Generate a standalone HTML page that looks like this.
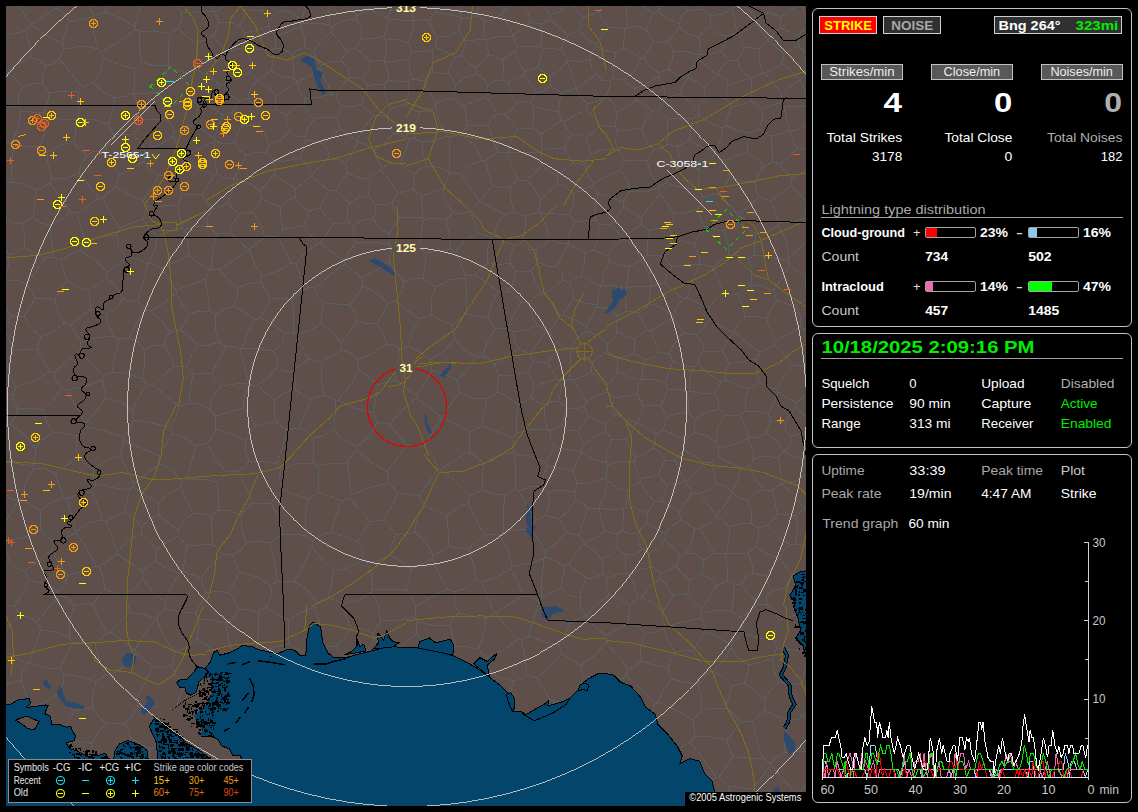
<!DOCTYPE html>
<html><head><meta charset="utf-8"><title>Lightning</title>
<style>
html,body{margin:0;padding:0;background:#000;width:1138px;height:812px;overflow:hidden}
svg{position:absolute;left:0;top:0;font-family:"Liberation Sans",sans-serif}
</style></head><body>
<svg width="1138" height="812" viewBox="0 0 1138 812">

<defs><clipPath id="mc"><rect x="6" y="6" width="800" height="800"/></clipPath></defs>
<g clip-path="url(#mc)" shape-rendering="crispEdges">
<rect x="6" y="6" width="800" height="800" fill="#5e4f4b"/>
<path d="M831 799L821 799L811 803M811 803L810 816L811 826M18 501L8 497L-4 489M18 501L11 513L3 526M3 526L-9 522L-19 515M7 825L0 818L-11 810M8 -3L-3 12L-16 23M40 511L52 502L64 498M40 511L31 505L22 499M22 499L26 482L34 468M64 498L59 484L55 474M55 474L46 469L34 468M-6 461L14 463L33 466M18 501L22 499M33 466L34 468M745 820L751 816L759 809M759 809L769 813L775 813M507 818L511 806L514 798M550 818L535 808L524 794M514 798L524 794M490 825L483 816L472 811M455 814L462 811L472 811M419 813L431 810L444 805M444 805L450 810L455 814M598 836L598 825L600 810M562 817L568 807L577 793M577 793L587 801L600 810M631 815L623 809L617 803M617 803L609 805L600 810M508 291L498 292M508 291L513 284L516 272M516 272L510 263M510 263L498 265L488 263M488 263L482 268L475 275M498 292L488 283L475 275M79 -12L88 4L94 16M117 -14L110 -1L105 12M105 12L94 16M17 -1L22 11L31 24M58 -4L57 8M57 8L42 17L31 24M357 141L351 137L340 129M357 141L357 142M357 142L353 153L345 163M340 129L333 135L323 144M323 144L328 150L328 159M328 159L338 159L345 163M43 410L30 408L18 409M43 410L47 423L54 432M35 448L42 440L54 432M35 448L25 435L10 424M10 424L15 418L18 409M-1 430L10 424M33 466L35 456L35 448M13 395L-1 392L-18 390M13 395L14 402L18 409M80 350L92 364L103 376M80 350L67 361L54 373M54 373L56 380L62 388M103 376L102 380M102 380L83 387L66 390M62 388L66 390M85 424L78 409L66 390M85 424L96 411L106 398M106 398L105 390L102 380M-5 193L-1 204L7 219M7 219L-2 230L-12 239M-15 117L-4 128L9 143M-20 154L-3 148L9 143M442 418L433 431L424 447M442 418L428 406L416 398M416 398L400 412L389 424M424 447L418 445L407 445M407 445L398 435L389 424M538 601L532 597L523 596M538 601L541 598M523 596L518 582L511 569M512 567L511 569M512 567L526 564L544 559M541 598L542 577L544 559M419 496L424 506M419 496L407 494L398 493M424 506L417 517L415 532M383 520L392 506L398 493M383 520L388 525L396 534M396 534L405 534L415 532M482 490L494 494L505 495M482 490L482 476L484 463M484 463L497 456L513 452M515 489L505 495M515 489L516 470L514 454M514 454L513 452M441 470L455 481L470 496M441 470L454 460L469 452M469 452L478 458L484 463M470 496L482 490M485 536L477 521L468 503M485 536L475 542L469 549M449 546L458 548L469 549M449 546L448 529L447 516M447 516L459 507L468 503M500 536L492 534L485 536M500 536L504 532M470 496L468 503M504 532L503 514L505 495M424 506L434 510L447 516M415 532L425 541L433 555M433 555L444 550L449 546M438 469L441 470M438 469L429 482L419 496M627 573L619 574L608 578M627 573L625 564L626 555M608 578L602 574M602 574L604 566L601 559M626 555L617 548M601 559L610 555L617 548M622 530L623 521L624 508M622 530L616 534M624 508L613 510L599 508M616 534L605 531M599 508L601 519L605 531M724 -9L727 1L733 8M733 8L743 5M743 5L750 -4L755 -12M823 -3L812 3L802 6M828 30L816 27L807 26M802 6L805 15L807 26M802 6L797 4M797 4L792 -4L790 -10M690 794L703 788L716 777M690 794L702 807L710 822M727 812L718 818L710 822M727 812L730 797L728 786M728 786L719 777M716 777L719 777M669 827L674 812L680 793M680 793L690 794M745 820L736 815L727 812M759 809L756 797L753 788M753 788L743 788L728 786M640 813L646 805L649 794M680 793L680 793M649 794L663 796L680 793M824 758L814 774L800 793M822 753L804 751L784 753M800 793L795 792M795 792L780 776L771 765M784 753L775 758L771 764M771 764L771 765M811 803L806 799L800 793M775 813L784 804L795 792M753 788L763 775L771 765M55 474L65 467L78 456M54 432L67 434L77 436M78 456L76 448L77 436M85 424L85 427M43 410L54 399L62 388M85 427L77 436M106 398L121 402L132 411M132 411L133 420M85 427L105 431L123 437M133 420L130 430L123 437M617 803L620 793L619 782M649 794L645 788L637 779M619 782L630 781L637 779M558 775L568 780L577 791M558 775L555 764L555 750M577 791L590 778L602 769M555 750L564 745L573 740M573 740L586 742L600 744M602 769L600 756L602 747M600 744L602 747M524 794L526 791M526 791L540 781L558 775M577 793L577 791M619 782L613 775L602 769M7 541L5 549M7 541L25 537L41 531M5 549L10 561M10 561L17 568L25 571M25 571L40 560L52 550M41 531L47 537L54 542M54 542L52 550M3 526L5 536L7 541M-21 550L-6 550L5 549M40 511L40 522L41 531M-13 589L-2 573L10 561M499 376L494 365M499 376L513 375L528 372M530 354L519 349M530 354L533 361M533 361L528 372M494 365L507 356L519 349M452 325L455 339M452 325L460 319L466 314M466 314L475 316L488 318M488 318L495 328M482 356L487 343L495 328M482 356L476 356M455 339L464 350L476 356M443 417L457 425L470 432M443 417L452 403L460 392M460 392L471 398L487 399M487 399L484 414L482 426M482 426L470 432M438 469L433 456L424 447M469 452L469 444L470 432M442 418L443 417M499 376L497 384L498 392M498 392L487 399M482 356L489 358L494 365M476 356L467 371L457 380M457 380L460 392M518 405L507 396L498 392M518 405L516 418L517 433M513 438L517 433M513 438L496 431L482 426M513 438L513 452M455 339L444 351L430 360M457 380L447 375L432 370M432 370L430 360M416 398L416 395M432 370L425 383L416 395M807 365L813 371L824 381M807 365L810 348L817 335M598 194L608 196L623 202M598 194L593 186M593 186L594 183M623 202L630 191M630 191L627 179L620 170M594 183L607 176L620 170M647 160L637 160L625 160M647 160L651 175L660 186M630 191L645 192L659 188M660 186L659 188M620 170L625 160M452 325L440 320L431 315M431 315L419 319M430 360L418 351L408 346M419 319L412 333L408 346M416 395L406 388L395 380M395 380L397 365L400 349M408 346L400 349M538 262L531 271M538 262L547 266L556 267M531 271L535 281L542 294M556 267L562 273L563 280M563 280L555 287L545 294M542 294L545 294M498 292L492 303L488 318M466 314L467 294L465 278M475 275L466 276M465 278L466 276M431 315L431 300L436 287M465 278L450 280L436 287M404 282L413 279L423 278M404 282L402 291L396 301M419 319L406 309L396 301M436 287L429 283L423 278M515 246L510 257L510 263M515 246L505 242L494 236M488 263L487 252L491 237M494 236L491 237M516 272L524 271L531 271M515 246L522 243M538 262L536 250M536 250L528 249L522 243M666 183L675 171L682 163M666 183L660 186M647 160L654 150M668 144L662 148L654 150M668 144L677 147M677 147L679 156L682 163M542 165L550 172L557 176M542 165L541 153M541 153L542 150M542 150L552 148L565 148M557 176L567 167L574 163M574 163L569 156L565 148M593 186L584 189L573 194M573 194L566 187L558 184M558 184L557 176M585 165L588 176L594 183M585 165L574 163M117 -14L129 -9L144 1M105 12L122 19L135 27M144 1L138 13L135 27M-4 191L1 185L11 182M9 143L12 144M12 144L14 146M11 182L11 164L14 146M94 16L93 17M57 8L63 13L70 22M93 17L82 19L70 22M103 58L118 64L134 69M103 58L101 52M101 52L120 41L136 29M141 62L139 47L140 32M141 62L134 69M140 32L136 29M93 83L100 72L103 58M93 83L103 92L115 98M133 93L126 96L115 98M133 93L135 83L134 69M135 27L136 29M93 17L94 34L98 49M98 49L101 52M337 118L340 129M337 118L324 117L314 119M323 144L313 141L306 140M306 140L305 137M314 119L308 128L305 137M302 226L307 220L308 211M302 226L308 232L318 243M333 223L327 234L320 243M333 223L327 217L320 208M318 243L320 243M320 208L308 211M141 62L152 65L168 66M140 32L157 31L170 34M170 34L168 48L168 66M249 250L255 265L262 276M249 250L249 250M277 236L265 237M277 236L284 249L291 263M249 250L257 243L265 237M262 276L278 271L291 263M283 230L290 228L302 226M283 230L277 236M318 243L305 253L296 264M296 264L291 263M66 499L73 517L76 532M66 499L64 498M54 542L66 537L76 533M76 533L76 532M68 575L84 571L96 566M68 575L59 564L52 550M76 533L86 547L96 566M66 499L81 493L92 492M92 492L98 506L102 520M76 532L88 523L102 520M16 387L9 373L7 360M16 387L35 381L50 371M50 371L43 361L37 349M37 349L25 349L14 351M14 351L7 360M13 395L16 387M-17 362L-4 359L7 360M54 373L50 371M65 323L70 325M65 323L53 332L41 337M70 325L75 332L81 343M81 343L80 350M41 337L37 349M-17 331L-6 329L4 329M4 329L9 339L14 351M226 347L219 342M226 347L219 360L212 373M212 373L202 374L193 373M197 345L209 345L219 342M197 345L192 354L187 367M187 367L193 373M164 345L154 345L144 350M164 345L171 357L174 366M144 350L145 363L142 379M174 366L162 377L154 385M142 379L147 385M147 385L154 385M170 332L165 339L164 345M170 332L180 330M180 330L188 335L197 345M187 367L174 366M132 411L138 398L147 385M103 376L112 372M112 372L125 373L142 379M398 493L389 483M407 445L397 459L387 471M389 483L387 471M378 385L376 398L373 413M378 385L388 382L395 380M389 424L377 422M373 413L377 422M567 701L572 719L573 740M567 701L574 697M600 744L607 730L609 716M574 697L592 707L609 716M586 616L596 605L609 595M586 616L581 609L580 598M609 595L606 586L608 578M602 574L593 578L587 578M580 598L581 589L587 578M586 616L577 619L570 624M586 616L586 616M538 601L539 602M541 598L553 592L561 588M570 624L552 615L539 602M580 598L568 595L561 588M588 508L583 522L579 536M588 508L599 508M599 508L599 508M605 531L596 538L584 542M579 536L584 542M561 588L563 576L565 566M587 578L580 573L569 565M569 565L565 566M601 559L594 550L584 544M569 565L575 554L584 544M544 559L545 557M565 566L554 560L545 557M616 534L617 539L617 548M584 544L584 542M450 625L454 617L459 613M450 625L432 625L417 622M417 622L415 617M447 589L454 592M447 589L432 597L416 606M416 606L415 617M459 613L454 602L454 592M433 555L432 558M432 558L438 571L447 589M469 549L474 567L476 579M454 592L467 588L476 579M512 567L508 550L500 536M511 569L497 577L482 582M482 582L476 579M809 465L820 466L835 464M809 465L806 459M806 459L811 448L817 437M759 604L748 594L741 584M759 604L750 610L741 618M731 611L741 618M731 611L734 598L733 584M733 584L741 584M626 555L636 554L642 549M622 530L629 534L638 533M638 533L638 540L642 549M550 431L551 440L554 446M550 431L547 429M547 429L532 429L517 433M514 454L529 456L545 462M554 446L551 455L545 462M515 489L519 491M542 486L529 487L519 491M542 486L543 477L547 466M547 466L545 462M577 483L573 471M577 483L574 492M542 486L548 492M573 471L561 468L547 466M548 492L559 490L574 492M606 478L589 483L577 483M606 478L607 480M607 480L605 495L599 508M588 508L582 503L576 500M574 492L576 500M625 507L628 497L627 491M625 507L634 508L647 513M655 502L647 513M655 502L647 493L639 482M639 482L632 486L627 491M607 480L617 488L627 491M624 508L625 507M648 523L643 527L638 533M648 523L647 513M661 501L673 508L679 512M661 501L655 502M648 523L658 530L666 533M666 533L672 526L681 520M681 520L679 512M667 485L664 494L661 501M667 485L658 475M641 479L650 477L658 475M641 479L639 482M608 465L606 478M608 465L620 461L634 461M634 461L636 469L641 479M807 54L816 54L822 52M807 54L798 46M807 26L798 36M798 46L798 36M37 622L30 618L20 615M37 622L46 611L60 595M29 580L46 584L59 592M29 580L22 594L15 606M15 606L20 615M60 595L59 592M41 630L37 622M41 630L55 632L69 637M69 637L70 620L74 606M74 606L69 599L60 595M68 575L64 586L59 592M25 571L29 580M-9 599L1 605L15 606M-2 644L8 627L20 615M678 749L662 741L648 730M678 749L676 757L672 763M672 763L658 764L644 766M644 766L642 757L635 749M648 730L643 740L635 749M690 742L684 746L678 749M690 742L704 760L716 777M680 793L677 778L672 763M637 779L642 772L644 766M602 747L619 746L635 749M733 757L749 758L763 758M733 757L729 748L727 740M727 740L733 732L740 722M763 758L757 742L753 721M753 721L740 722M719 777L727 765L733 757M771 764L763 758M690 742L694 736M694 736L711 737L727 740M784 753L786 736L788 720M753 721L757 717L765 711M765 711L776 716L788 720M766 604L774 610L779 620M766 604L759 604M741 618L743 623L742 632M742 632L757 638L774 639M779 620L774 630L774 639M820 641L811 629L803 616M803 616L813 607L826 598M129 490L115 488L96 484M129 490L133 487M133 487L134 484M134 484L126 468L120 455M120 455L106 461L93 469M93 469L93 479L96 484M124 512L113 517L106 521M124 512L127 502L129 490M92 492L96 484M102 520L106 521M159 503L167 494L181 487M159 503L148 497L133 487M160 464L148 473L134 484M160 464L173 471L182 482M182 482L181 487M159 456L141 448L124 441M159 456L160 464M124 441L122 448L120 455M78 456L84 463L93 469M123 437L124 441M283 490L279 479L281 470M283 490L277 496L271 503M238 471L245 467L249 461M238 471L246 487L253 503M249 461L261 461L276 464M253 503L259 503L271 503M281 470L276 464M256 426L250 433L246 441M256 426L267 423L276 422M276 422L287 430M249 461L245 450L246 441M276 464L282 449L287 430M243 408L230 412L215 416M243 408L251 416L256 426M246 441L233 434L216 429M216 429L215 416M221 386L213 396L210 409M221 386L216 381L212 373M193 373L190 391L189 403M210 409L199 404L189 403M159 456L166 444L173 434M133 420L151 423L171 427M171 427L173 434M154 385L165 395L179 407M171 427L176 417L179 407M179 407L189 403M74 606L86 603L93 605M96 566L99 566M99 566L103 576L105 589M105 589L99 595L93 605M201 578L210 566L223 554M201 578L193 575L183 571M223 554L216 547L212 544M212 544L201 545L187 546M183 571L185 557L187 546M419 813L411 807M445 778L444 791L444 805M445 778L433 774L421 767M421 767L414 771L410 779M411 807L411 793L410 779M567 701L557 702L550 700M550 700L540 709L535 718M555 750L544 748L538 742M538 742L538 732L535 718M526 791L523 771L520 752M538 742L529 749L520 752M459 613L473 616L486 619M482 582L488 598L495 613M486 619L495 613M523 596L509 604L496 613M496 613L495 613M528 636L545 642L559 645M528 636L521 640M521 640L525 656L527 675M562 654L559 645M562 654L551 665L537 678M537 678L527 675M570 624L565 634L559 645M539 602L534 618L528 636M518 639L507 628L496 613M518 639L521 640M550 700L545 691L537 678M514 681L522 678L527 675M514 681L510 694L508 709M535 718L523 715L508 709M399 672L397 663L397 652M399 672L410 674L419 673M397 652L406 642L416 634M419 673L427 667L434 657M434 657L425 644L416 634M317 602L328 598M317 602L306 589L294 581M328 598L331 586L334 571M294 581L303 566L312 547M312 547L324 561L334 571M283 490L296 495L308 499M271 503L279 518L283 534M283 534L296 534L305 536M305 536L305 516L308 499M411 569L401 561L390 555M411 569L409 581L405 589M405 589L388 589L373 589M390 555L380 560L367 563M367 563L372 577L373 589M396 534L391 546L390 555M432 558L421 565L411 569M416 606L413 600L405 589M-18 727L-7 740L5 751M-4 711L11 718L27 720M27 720L14 736L5 751M-11 768L-1 761L5 753M5 751L5 753M550 431L562 425M547 429L545 419L544 405M562 425L565 415L567 408M567 408L559 401M559 401L554 401L544 405M518 405L523 402L531 398M544 405L539 403L531 398M528 372L533 381L534 387M531 398L534 387M569 282L563 280M569 282L572 289L574 299M545 294L552 304L560 315M560 315L563 315M574 299L567 308L563 315M826 302L815 299L808 297M808 297L805 286L806 276M806 276L819 273L830 268M817 335L810 331L801 327M801 327L800 316L796 306M796 306L803 300L808 297M668 144L667 133L667 118M654 150L645 139L642 128M667 118L659 110M659 110L653 111M653 111L646 118L642 128M585 165L591 154M625 160L618 149M591 154L602 150L618 149M642 128L629 130L618 130M618 149L615 141L618 130M637 100L647 107L653 111M637 100L625 108L617 114M617 114L615 126M618 130L615 126M585 253L577 248L568 244M585 253L594 250M594 250L598 238L599 224M568 244L570 231L575 221M568 244L568 244M575 221L584 221L595 220M595 220L599 224M581 276L584 264L585 253M581 276L569 282M556 267L563 254L568 244M569 214L557 214L540 213M569 214L575 221M540 213L546 226L549 239M549 239L559 243L568 244M549 239L545 245L536 250M598 194L595 206L595 220M569 214L573 205L573 194M521 302L513 316L508 328M521 302L529 302M529 302L532 316L537 325M537 325L527 330L513 332M508 328L513 332M508 291L514 294L521 302M495 328L508 328M542 294L533 298L529 302M560 315L557 321L549 331M547 331L537 325M547 331L549 331M530 354L538 343L547 331M519 349L515 341L513 332M558 184L548 192L541 200M542 165L533 175L527 180M527 180L536 191L541 200M540 213L539 212M522 243L525 227L526 216M526 216L539 212M541 200L539 212M508 152L511 140L517 130M508 152L525 152L541 153M517 130L523 128L532 128M542 150L541 143L541 134M532 128L541 134M571 134L566 127L564 122M571 134L580 135L586 138M564 122L573 116L586 110M586 138L595 131L599 125M586 110L592 115L599 125M565 148L566 143L571 134M562 120L549 129L541 134M562 120L564 122M591 154L589 148L586 138M615 126L608 127L599 125M606 95L598 101L587 104M606 95L614 104L617 114M587 104L586 110M400 163L406 149L409 139M400 163L391 163L382 168M382 168L378 160L374 150M374 150L386 142L394 133M394 133L401 134L409 139M415 174L407 170L400 163M415 174L413 181L413 189M413 189L407 191L398 193M381 170L389 180L398 193M381 170L382 168M422 142L423 154L427 166M422 142L432 141L447 136M447 136L449 137M449 137L450 153L449 172M427 166L440 168L449 172M415 174L419 169L427 166M414 138L409 139M414 138L422 142M420 112L415 125L414 138M420 112L429 111L435 106M435 106L438 119L447 136M502 80L508 82M502 80L497 80L488 85M508 82L511 93L516 103M486 97L488 85M486 97L491 103L497 114M516 103L512 110L504 114M497 114L504 114M524 75L514 80L508 82M524 75L525 72M502 60L509 55L515 51M502 60L504 68L502 80M525 72L519 63L515 51M476 74L483 78L488 85M476 74L476 68M476 68L484 61L488 55M502 60L494 56L488 55M488 125L491 119L497 114M488 125L476 125L467 126M464 106L466 115L467 126M464 106L475 101L486 97M405 104L413 110L420 112M405 104L408 95L409 81M435 106L437 103M409 81L413 79M413 79L424 81M424 81L428 90L437 103M464 106L453 98M467 126L461 134M461 134L449 137M437 103L447 99L453 98M476 74L464 78L456 85M456 85L453 98M384 85L386 99L391 109M384 85L377 84L368 86M368 86L364 97L362 104M362 104L367 111L374 115M374 115L387 115M387 115L391 109M405 104L396 107L391 109M409 81L400 82L388 80M388 80L384 85M357 141L364 127L374 115M337 118L341 106M341 106L352 107L362 104M357 142L365 144L374 150M394 133L390 126L387 115M341 106L336 97M336 97L341 87L350 77M368 86L363 79M363 79L350 77M36 190L42 188L50 183M36 190L35 204L33 217M50 183L61 199L71 212M33 217L40 223L50 225M71 212L60 220L50 225M11 182L23 184L36 190M40 146L29 146L14 146M40 146L47 152M47 152L48 163L52 179M52 179L50 183M7 219L14 223L22 223M22 223L33 217M53 257L52 242L50 225M53 257L61 260M85 240L81 228L77 213M85 240L80 250M77 213L71 212M61 260L73 253L80 250M47 117L60 119L75 120M47 117L45 133L40 146M47 152L62 145L73 142M73 142L76 133L75 120M93 83L82 87M115 98L112 113L108 124M82 87L79 91M79 91L78 106L78 118M78 118L94 120L108 124M98 49L82 46L64 49M82 87L71 73L59 59M59 59L64 49M70 22L65 33L62 43M64 49L62 43M31 24L31 25M62 43L48 36L31 25M336 97L332 94M332 94L319 97L305 99M314 119L308 113L304 104M305 99L304 104M146 207L162 206L178 205M146 207L143 219M143 219L149 229L158 236M158 236L171 231L182 228M178 205L180 217L182 228M283 230L281 217L280 207M265 237L260 223L252 212M252 212L258 206L261 198M261 198L270 203L280 207M308 211L299 204L295 197M280 207L286 202L295 197M196 42L197 52L198 64M196 42L189 38L178 28M178 28L170 34M168 66L169 68M198 64L195 69M195 69L190 72M169 68L182 72L190 72M388 303L383 314L377 323M388 303L396 301M400 349L392 344L387 344M377 323L384 336L387 344M324 303L336 304L350 305M324 303L322 311L321 324M321 324L332 332L341 343M341 343L349 333L357 321M350 305L354 311L357 321M388 303L378 294L363 286M363 286L358 294L350 305M377 323L368 324L357 321M275 400L283 393L295 390M275 400L274 411L276 422M299 428L287 430M299 428L305 415L311 399M311 399L303 395L295 390M275 400L265 393L258 385M243 408L245 395L251 385M258 385L251 385M221 386L235 384L249 383M226 347L235 346L240 349M240 349L244 365L249 383M215 416L210 409M249 383L251 385M228 203L218 208L212 208M228 203L234 210L240 214M240 214L233 223L230 233M212 208L207 219L208 226M230 233L217 234M217 234L208 226M234 178L232 191L228 203M234 178L225 178L217 174M202 195L206 201L212 208M202 195L207 187L214 175M217 174L214 175M234 178L234 178M234 178L249 183L260 191M252 212L240 214M261 198L260 191M249 250L239 241L230 233M202 195L190 194L182 195M182 195L178 205M182 228L185 230M185 230L194 226L208 226M249 250L232 261L219 270M219 270L211 269M211 269L213 249L217 234M188 255L199 263L210 270M188 255L188 241L185 230M211 269L210 270M262 276L261 282M219 270L229 281L238 288M261 282L247 284L238 288M219 342L215 327L216 315M216 315L224 309L234 306M240 349L242 348M242 348L248 332L255 320M234 306L246 313L255 320M413 189L421 196M398 193L392 202M392 202L395 212L400 218M421 196L422 206L422 218M400 218L410 217L422 218M356 243L370 242L389 244M356 243L349 251L344 261M344 261L344 264M344 264L353 271L362 278M362 278L375 271L389 261M389 261L392 248M392 248L389 244M320 243L331 251L344 261M315 288L330 275L344 264M315 288L309 287M309 287L301 278L296 264M315 288L318 297L324 303M363 286L362 278M404 282L395 270L389 261M426 253L425 267L423 278M426 253L419 247M419 247L404 247L392 248M400 218L393 227L389 234M419 247L421 233L424 220M424 220L422 218M389 234L389 244M345 163L348 173M381 170L373 174L369 179M369 179L360 178L348 173M65 323L57 310L55 300M55 300L47 298L35 298M41 337L31 328L24 316M35 298L29 309L24 316M4 329L8 324L11 317M-6 293L5 306L11 317M24 316L11 317M45 258L33 252L24 248M45 258L35 273L26 284M24 248L15 253L9 254M9 254L8 268L4 280M26 284L17 280L4 280M22 223L25 238L24 248M53 257L45 258M55 300L61 289L67 281M61 260L63 269L67 281M35 298L32 291L26 284M-12 239L-3 245L9 254M-1 283L4 280M216 315L210 311M210 270L205 279M238 288L237 298L234 306M205 279L208 297L210 311M180 330L186 321L189 315M189 315L198 311L210 311M85 240L102 237L117 235M117 235L119 248L126 258M80 250L95 260L108 272M126 258L115 267L108 272M756 359L757 370L759 382M756 359L741 362L729 364M729 364L726 370L725 380M725 380L737 385L749 389M749 389L759 382M270 543L258 541L246 543M270 543L275 563L277 581M277 581L271 586M271 586L257 577L239 572M246 543L241 550L233 555M239 572L235 561L233 555M241 515L241 527L246 543M241 515L247 508L253 503M283 534L275 539L270 543M294 581L285 581L277 581M312 547L312 541M305 536L312 541M288 620L300 613L315 607M288 620L275 613L266 607M266 607L271 597L271 586M315 607L317 602M223 554L233 555M212 544L212 530L211 516M241 515L228 510L218 510M218 510L211 516M206 593L219 591L229 593M206 593L203 585L201 578M229 593L235 581L239 572M357 450L352 455L347 463M357 450L357 446M357 446L343 440L334 430M347 463L333 463L318 466M334 430L322 436L313 438M313 438L313 450L314 463M318 466L314 463M351 495L368 488L389 483M351 495L349 477L347 463M387 471L372 463L357 450M377 422L369 437L357 446M281 470L295 464L314 463M299 428L306 431L313 438M308 499L318 493M318 493L318 480L318 466M586 616L595 627L606 635M609 595L618 598L630 605M606 635L618 629L628 624M628 624L629 613L630 605M673 596L667 585L660 579M673 596L667 606L662 612M660 579L649 587L641 598M662 612L654 603L641 598M627 573L630 574M630 574L635 588L638 598M630 605L638 598M606 635L606 643M562 654L573 660L580 666M606 643L594 656L580 666M574 697L580 686L583 676M580 666L583 676M807 365L794 365M794 365L784 375L777 389M777 389L778 392M778 392L789 399L796 403M796 403L809 393L824 385M807 475L814 487M807 475L796 481L782 484M782 484L794 495L804 508M814 487L808 498L804 508M809 465L807 475M701 609L693 601L687 595M701 609L708 599L717 585M687 595L688 590L690 580M690 580L702 574M717 585L711 579L702 574M702 613L718 610L731 611M702 613L701 609M733 584L728 581M717 585L728 581M686 553L696 554L704 560M686 553L691 543L695 529M695 529L700 528M700 528L706 539L714 553M714 553L704 560M716 517L710 523L700 528M716 517L723 520L729 527M725 554L714 553M725 554L727 553M729 527L729 539L727 553M728 581L727 566L725 554M702 574L704 560M653 567L661 573M653 567L650 562L649 553M661 573L670 570L676 566M649 553L660 548L665 540M665 540L674 548L680 556M680 556L676 566M630 574L643 569L653 567M660 579L661 573M638 598L641 598M642 549L649 553M673 596L680 593L687 595M690 580L681 572L676 566M666 533L665 540M681 520L688 524L695 529M686 553L680 556M653 448L662 454L665 460M653 448L655 443L656 434M663 430L673 434L685 440M663 430L656 434M684 450L685 440M684 450L675 460M675 460L665 460M634 461L636 457M636 457L644 454L653 448M658 475L662 466L665 460M667 417L676 414L688 412M667 417L663 430M688 412L694 419M694 419L694 432M694 432L685 440M667 485L678 484L685 481M685 481L679 469L675 460M748 500L751 511L751 523M748 500L739 498L732 493M716 517L716 516M729 527L741 524L751 523M732 493L726 504L716 516M569 379L571 366L570 349M569 379L562 381M562 381L557 379M557 379L551 368L547 363M547 363L554 355L563 347M563 347L570 349M559 401L561 389L562 381M534 387L546 382L557 379M533 361L540 362L547 363M549 331L554 339L563 347M652 286L651 287M652 286L665 283M651 287L649 296L650 304M665 283L674 291L683 299M683 299L678 305L673 316M650 304L661 307L673 316M667 417L661 406M661 406L665 396L668 389M688 412L689 405L687 393M668 389L680 389L687 393M694 419L706 413L719 409M715 393L718 399L719 409M715 393L700 393L689 391M689 391L687 393M683 299L687 298M687 298L697 303L709 307M710 319L709 307M710 319L704 327L696 335M673 316L673 318M673 318L680 328L683 333M696 335L683 333M722 351L726 343L734 332M722 351L714 352L704 351M710 319L722 327L734 332M696 335L702 342L704 351M722 351L726 357L729 364M721 382L725 380M721 382L710 375L698 364M704 351L699 356L698 364M721 382L715 393M689 391L690 379L693 367M698 364L693 367M546 515L559 519M546 515L536 520M545 551L558 542L566 532M545 551L540 541L530 529M566 532L563 525L559 519M530 529L536 520M548 492L550 501L546 515M576 500L568 511L559 519M519 491L527 505L536 520M579 536L566 532M545 557L545 551M504 532L518 530L530 529M706 -6L705 3L703 9M676 -8L684 3L688 11M688 11L695 10L703 9M666 -6L664 2L658 11M658 11L666 18L679 24M688 11L682 15L679 24M653 41L649 49L644 58M653 41L646 30M646 30L637 26L627 28M644 58L641 58M627 28L625 29M625 29L624 39L623 48M641 58L631 52L623 48M596 46L604 50L616 53M596 46L592 53L590 59M590 59L592 69L597 74M616 53L613 68L614 78M597 74L602 80L610 80M610 80L614 78M641 58L634 71L624 80M623 48L616 53M624 80L614 78M606 95L610 86L610 80M587 104L582 98L576 89M576 89L588 80L597 74M634 89L637 100M634 89L624 80M567 60L567 61M567 60L581 62L590 59M576 89L576 88M576 88L573 77L567 61M807 54L804 67L805 75M805 75L819 72L830 74M805 75L800 80M815 103L806 92L800 80M800 80L800 80M743 5L749 10L757 20M767 -3L770 7L769 12M757 20L761 17L769 12M797 4L790 12L780 17M769 12L780 17M798 36L792 33L781 28M780 17L781 28M806 202L817 198L825 192M806 202L806 210L804 218M818 232L811 223L804 218M806 202L798 192L791 186M791 186L792 178M792 178L805 171L816 169M634 89L644 85L658 77M659 110L666 98M666 98L664 89L658 77M644 58L649 66L659 73M658 77L659 73M666 98L672 96L680 94M668 69L659 73M668 69L677 75L688 77M688 77L688 78M688 78L682 88L680 94M645 634L638 627L628 624M645 634L641 645L640 661M606 643L618 656L628 669M640 661L635 667L628 669M694 736L694 728L693 720M740 722L733 713L725 708M693 720L702 710M725 708L712 708L702 710M693 720L678 711L658 702M671 679L663 691L658 702M671 679L685 682L698 685M702 710L701 697L698 685M665 627L664 629M665 627L684 622L701 618M664 629L668 641L676 653M701 618L705 623L705 631M705 631L699 641L693 651M676 653L683 650L693 651M645 634L655 632L664 629M662 612L663 620L665 627M702 613L701 618M668 668L655 665L640 661M668 668L670 661L676 653M742 632L737 639L731 645M731 645L718 637L705 631M668 668L671 679M698 685L704 678L710 672M710 672L700 662L693 651M186 480L203 479L217 482M186 480L192 460L196 446M196 446L207 443M207 443L215 459L227 472M227 472L221 479L217 482M193 513L186 500L181 487M193 513L202 513L211 516M182 482L186 480M218 510L219 497L217 482M173 434L185 438L196 446M216 429L214 435L207 443M238 471L227 472M266 607L258 612M229 593L236 603L239 609M258 612L249 610L239 609M206 593L202 602L195 613M195 613L179 612L166 609M166 609L165 602M183 571L179 573M165 602L171 588L179 573M124 512L134 518L142 527M159 503L158 515M142 527L149 519L158 515M193 513L185 520L178 530M158 515L166 521L178 530M187 546L178 536M178 530L178 536M431 695L426 702L421 706M431 695L442 695M442 695L448 703L454 710M445 733L450 721L454 710M445 733L437 733L426 735M421 706L422 721L426 735M421 767L419 758L415 746M379 754L396 749L409 744M379 754L382 767L383 780M410 779L395 780L383 780M415 746L409 744M411 807L397 810L385 812M383 780L380 787L374 791M374 791L380 803L385 812M385 812L382 818L378 828M502 749L495 739L489 733M502 749L496 766L487 782M489 733L478 740L463 746M463 746L463 757L459 770M459 770L471 777L484 782M484 782L487 782M520 752L510 749L502 749M508 709L499 712L491 719M491 719L489 727L489 733M514 798L502 790L487 782M480 708L469 708L454 710M480 708L483 715L491 719M445 733L452 738L463 746M445 778L450 773L459 770M426 735L421 741L415 746M472 811L478 798L484 782M486 658L478 649M486 658L488 669M478 681L468 681L454 679M478 681L482 676L488 669M478 649L468 647L456 646M454 679L451 667L445 657M445 657L453 649L456 646M518 639L505 649L486 658M486 619L484 634L478 649M514 681L498 677L488 669M442 695L446 689L454 679M480 708L478 693L478 681M450 625L453 637L456 646M431 695L424 686L419 673M434 657L445 657M417 622L416 634M288 620L288 634L289 644M289 644L299 650L310 655M315 607L320 625L321 646M321 646L310 655M381 621L378 604L371 592M381 621L373 633M373 633L360 628L351 628M351 628L347 618L342 604M342 604L359 600L371 592M415 617L399 620L381 621M373 589L371 592M397 652L387 647L375 639M375 639L373 633M362 665L366 652L375 639M362 665L354 666M335 646L344 655L354 666M335 646L345 638L351 628M328 598L337 601L342 604M321 646L328 646L335 646M364 560L347 568L334 571M364 560L367 563M331 532L336 516L342 501M331 532L345 537L358 542M370 522L362 512L349 498M370 522L364 530L358 542M349 498L342 501M312 541L323 534L331 532M318 493L330 496L342 501M364 560L362 550L358 542M383 520L370 522M351 495L349 498M268 712L277 720M268 712L251 713L238 718M238 718L237 730L238 741M279 730L266 741L257 752M279 730L277 720M257 752L245 745L238 741M56 779L50 789L46 800M56 779L44 773L32 766M32 766L29 767M29 767L25 780L21 789M21 789L27 797L31 802M31 802L37 800L46 800M27 720L30 719M5 753L16 759L29 767M49 736L41 726L30 719M49 736L43 752L32 766M-2 792L10 792L21 789M22 824L26 814L31 802M61 817L56 810L46 800M77 815L83 803M66 776L56 779M66 776L77 781M77 781L78 792L83 803M66 776L64 757L66 743M49 736L59 737M66 743L59 737M-3 687L11 683L21 680M30 719L33 707M33 707L25 692L21 680M-2 644L13 656L27 663M21 680L22 673L27 663M41 630L34 648L29 663M69 637L73 643M73 643L67 654L60 669M60 669L47 668L29 663M29 663L27 663M73 643L82 642L95 644M93 605L100 620L107 632M95 644L102 638L107 632M124 595L127 601L130 612M124 595L114 593L105 589M130 612L122 620L110 632M110 632L107 632M166 609L159 614L157 619M124 595L134 589L142 579M130 612L145 615L157 619M142 579L154 593L165 602M157 619L157 619M110 632L120 639L135 650M157 619L145 633L135 650M581 276L593 282L601 286M574 299L584 303L597 305M597 305L599 294L601 286M563 315L573 319L586 326M597 305L597 307M586 326L592 316L597 307M611 224L616 230L624 239M611 224L619 214L624 207M624 239L633 230L642 225M624 207L630 211L641 218M641 218L642 225M607 256L594 250M607 256L615 245L624 239M624 239L624 239M599 224L611 224M623 202L624 207M641 260L648 255M641 260L635 247L624 239M648 255L647 245L650 231M650 231L642 225M659 188L660 194M660 194L649 207L641 218M650 231L659 228L669 229M669 229L673 220L674 214M674 214L667 203L660 194M648 255L657 255L664 257M669 229L674 237M664 257L669 245L674 237M652 286L648 271L641 260M641 260L641 260M665 283L666 277L672 267M664 257L672 267M734 332L734 332M756 359L760 352M734 332L747 343L760 352M794 365L783 354L774 345M777 389L767 387L759 382M760 352L765 350L774 345M801 327L787 335L775 341M775 341L774 345M709 307L718 297L724 292M724 292L728 295L738 294M734 332L737 325L745 317M738 294L743 307L745 317M775 341L769 327L767 318M767 318L753 316L745 317M796 306L787 304L777 300M767 318L770 311L777 300M791 186L780 194L771 201M804 218L794 222L779 222M779 222L775 212L771 201M818 237L803 245L789 258M779 222L778 225M789 258L786 240L778 225M771 201L759 197M759 197L748 207L738 215M738 219L748 229L756 234M738 219L738 215M756 234L769 231L778 225M426 253L438 251L451 249M424 220L432 218L446 220M446 220L449 234L451 249M466 276L460 263L455 252M491 237L478 233M478 233L465 240L455 252M451 249L455 252M446 220L453 212M478 233L475 222L469 212M469 212L459 214L453 212M421 196L431 193L443 189M453 212L446 203L443 189M449 172L450 173M450 173L447 180L443 189M538 67L540 60L543 49M538 67L545 73L550 76M567 60L562 50M550 76L559 71L567 61M562 50L550 48L543 49M525 72L538 67M515 51L517 47M517 47L531 46L541 47M543 49L541 47M493 -6L498 4L504 10M504 10L511 6L522 2M522 2L524 -1M554 -18L563 -7L570 0M570 0L577 -6L584 -11M485 21L483 31L485 39M485 21L493 20L502 14M502 14L507 23L513 35M486 40L499 36L513 37M486 40L485 39M513 35L513 37M481 -8L480 2L476 15M504 10L502 14M476 15L485 21M522 2L528 13L531 22M531 22L521 30L513 35M488 55L488 50L486 40M517 47L513 37M461 55L470 64L476 68M461 55L465 47L466 41M466 41L475 40L485 39M531 22L541 24M541 24L542 37L541 47M461 18L459 31M461 18L460 17M460 17L446 14L435 12M459 31L450 36L437 37M437 37L433 30L429 21M429 21L435 12M476 15L469 18L461 18M466 41L459 31M459 -3L461 6L460 17M435 2L443 -2L446 -11M435 2L435 12M435 2L429 -1L420 -6M414 21L414 21M414 21L412 11L410 -0M414 21L422 19L429 21M413 79L409 70L409 59M388 80L388 71L384 61M384 61L396 61L409 59M448 73L443 74L433 72M448 73L450 67L456 57M433 72L432 59L432 50M456 57L444 51L435 47M435 47L432 50M424 81L433 72M456 85L452 78L448 73M461 55L456 57M412 51L409 59M412 51L422 52L432 50M437 37L435 47M414 21L413 30L408 43M408 43L412 51M332 94L326 81L320 68M305 99L300 92L297 82M320 68L310 76L297 82M362 38L356 48M362 38L372 39L384 36M356 48L364 55L370 62M384 36L385 39M385 39L387 49L384 60M370 62L384 60M388 19L388 26L384 36M388 19L400 20L414 21M408 43L398 40L385 39M384 61L384 60M363 79L369 69L370 62M329 1L336 -2L343 -2M329 1L330 14L329 25M343 -2L353 8L357 16M329 25L331 27M331 27L341 21L356 19M356 19L357 16M326 -1L329 1M369 9L370 -1M369 9L357 16M388 19L387 18M387 18L380 15L369 9M362 38L361 27L356 19M285 10L294 14L302 21M285 10L286 3L285 -6M302 21L304 11L309 -0M302 23L318 23L329 25M302 23L302 21M262 11L269 20M262 11L263 4L267 -5M269 20L276 13L285 10M182 -7L181 -2L179 7M179 7L165 3L147 -1M210 -19L212 -2L213 11M213 11L197 12L181 13M181 13L179 7M144 1L147 -1M178 28L182 19L181 13M87 155L94 151L104 152M87 155L81 166L79 173M104 152L112 164L119 175M79 173L91 188L99 198M119 175L116 187M116 187L112 190L102 198M102 198L99 198M73 142L81 151L87 155M78 118L75 120M108 124L113 133M113 133L111 140L104 152M52 179L68 178L79 173M77 213L88 206L99 198M143 201L146 207M143 201L128 194L116 187M143 219L129 224L119 229M119 229L110 212L102 198M119 229L117 235M31 25L26 31M-2 40L10 34L26 31M304 104L296 107L286 115M297 82L297 82M276 97L286 89L297 82M276 97L275 109M286 115L275 109M305 137L295 136L290 131M286 115L287 124L290 131M258 81L251 87L248 98M258 81L258 81M248 98L256 107L265 114M258 81L269 87L276 97M265 114L275 109M196 42L206 40L214 35M214 35L219 44L227 52M198 64L212 61L224 58M227 52L224 58M195 69L209 76L220 85M220 85L224 84M224 84L229 76M224 58L227 68L229 76M258 81L250 73M239 101L248 98M239 101L230 95L224 84M250 73L239 76L229 76M296 189L284 181L274 174M296 189L303 183L312 176M312 174L312 176M312 174L308 165L300 158M300 158L286 161L275 162M275 162L274 174M260 191L267 183L274 174M295 197L296 189M329 191L320 183L312 176M329 191L324 200L320 208M328 159L320 167L312 174M329 191L336 190M336 190L341 181L348 173M306 140L303 149L300 158M342 350L352 354L357 360M342 350L334 355L321 362M321 362L321 377L324 395M359 370L350 386L338 400M359 370L357 360M324 395L336 400M336 400L338 400M387 344L373 353L357 360M341 343L342 350M378 385L369 377L359 370M373 413L355 408L338 400M311 399L324 395M334 430L335 415L336 400M295 390L296 382L293 371M321 362L309 359M293 371L301 364L309 359M258 385L269 377L278 366M293 371L283 371L278 366M321 324L309 331L296 334M309 359L301 345L296 334M242 348L258 349L273 351M278 366L277 358L273 351M292 300L283 298L270 298M292 300L294 317L293 332M270 298L267 307L260 318M260 318L274 324L285 334M293 332L285 334M309 287L298 292L292 300M261 282L266 291L270 298M296 334L293 332M255 320L260 318M273 351L282 344L285 334M375 204L368 196M375 204L376 211L373 219M368 196L358 198L350 203M373 219L363 220L353 226M350 203L347 209L347 221M347 221L353 226M392 202L386 205L375 204M369 179L370 186L368 196M389 234L380 228L373 219M336 190L344 198L350 203M356 243L353 236L353 226M333 223L340 224L347 221M158 236L155 249L149 263M126 258L135 258L148 264M149 263L148 264M188 255L175 262L162 268M149 263L162 268M205 279L190 285L176 290M162 268L169 279L176 290M189 315L182 305L176 293M176 293L176 290M170 332L161 320L150 311M176 293L163 304L150 311M70 325L83 315L91 309M67 281L78 287L89 290M91 309L90 302L89 290M108 272L106 277M89 290L99 284L106 277M796 403L796 407M816 428L808 420L796 407M778 392L774 403L768 414M749 389L745 398L745 411M768 414L758 411L745 411M719 409L725 415M694 432L707 436L716 442M716 442L718 427L725 415M745 411L740 415M725 415L734 415L740 415M796 516L804 509M796 516L798 528L795 544M804 509L813 512L824 519M813 544L806 546M795 544L806 546M781 484L782 484M781 484L772 490M772 490L775 500L777 515M777 515L788 514L796 516M804 508L804 509M554 446L569 450L581 451M562 425L569 430L578 431M578 431L580 435L583 445M583 445L581 451M573 471L577 461L581 452M581 451L581 452M608 465L606 463M581 452L592 459L606 463M567 408L577 409L584 406M578 431L583 425L588 416M588 416L584 406M573 380L579 388L586 402M573 380L569 379M584 406L586 402M710 16L710 27M710 16L723 14L732 9M710 27L717 34L725 36M732 9L735 20L737 33M737 33L725 36M733 8L732 9M703 9L710 16M679 27L689 34L699 38M679 27L675 33L668 41M674 51L668 41M674 51L686 51L698 55M699 38L701 48L699 54M698 55L699 54M679 24L679 27M710 27L703 31L699 38M658 11L653 14M653 14L649 23L646 30M653 41L663 43L668 41M668 69L672 61L674 51M698 59L698 55M698 59L691 68L688 77M721 51L712 54L699 54M721 51L725 45L725 36M558 112L544 109L533 106M558 112L560 101L562 93M562 93L550 86M550 86L545 90L536 93M536 93L531 103M531 103L533 106M562 120L558 112M532 128L534 116L533 106M576 88L570 90L562 93M550 76L550 86M524 75L532 85L536 93M516 103L524 101L531 103M517 130L511 120L504 114M798 46L792 49L784 54M800 80L792 72L782 63M784 54L782 63M800 80L789 87L782 94M782 63L775 68L765 73M782 94L774 84L765 73M756 24L763 34L768 40M756 24L745 31L739 34M739 34L742 41L745 47M745 47L759 49M759 49L768 41M768 40L768 41M757 20L756 24M781 28L776 31L768 40M737 33L739 34M721 51L729 60M737 60L729 60M737 60L742 53L745 47M784 54L775 46L768 41M763 73L765 73M763 73L759 60L759 49M666 183L683 188L698 190M682 163L688 166L699 169M699 169L699 177L698 190M698 209L703 197M698 209L685 213L674 214M703 197L698 190M617 683L626 676M617 683L614 698L610 716M626 676L642 690L655 704M610 716L626 718L646 717M646 717L652 712L655 704M583 676L599 678L617 683M628 669L626 676M609 716L610 716M658 702L655 704M648 730L646 717M731 648L724 660L713 671M731 648L738 658L749 665M713 671L723 677L732 686M749 665L748 673L744 683M744 683L732 686M731 645L731 648M710 672L713 671M774 639L777 648M777 648L772 659M772 659L761 662L749 665M725 708L729 697L732 686M772 659L774 670L779 682M764 699L771 690L779 682M764 699L753 689L744 683M765 711L764 699M788 720L798 719L803 715M803 715L812 732L822 753M811 652L817 649M811 652L805 668L802 685M802 685L809 691L813 702M779 620L787 618L798 614M777 648L794 650L811 652M798 614L803 616M779 682L788 683L802 685M803 715L811 706L813 702M797 596L789 592L784 588M797 596L804 590L809 586M784 588L790 579L791 573M791 573L800 576L808 573M809 586L808 573M808 573L808 573M766 604L767 595L772 591M798 614L798 607L797 596M772 591L784 588M826 598L820 590L809 586M831 569L821 573L808 573M806 546L808 560L808 573M741 584L746 576L752 573M727 553L737 553L748 553M748 553L752 564L752 573M772 591L767 581L766 576M752 573L766 576M306 769L326 780L348 787M306 769L298 778M298 778L305 796L314 814M314 814L326 805L343 799M343 799L348 788M348 787L348 788M308 755L327 752L345 747M308 755L307 761L306 769M353 751L345 747M353 751L353 767L348 787M302 743L308 755M302 743L292 735L279 730M258 765L268 776L280 782M258 765L257 752M280 782L288 781L298 778M355 827L350 814L343 799M374 791L359 788L348 788M379 754L371 751L365 747M365 747L353 751M273 821L268 810M268 810L254 809L244 804M244 804L236 816L224 822M280 782L276 795L268 810M258 765L248 771L236 781M236 781L242 790L244 804M83 803L104 802L121 799M126 813L124 806L121 799M236 781L227 778L219 777M208 816L212 800L214 781M219 777L214 781M238 741L225 746L215 749M219 777L217 762L215 749M238 718L231 712L225 707M225 707L214 715L207 721M207 721L212 734L214 749M215 749L214 749M153 666L147 662L136 654M153 666L161 668L172 665M157 619L164 638L175 652M135 650L136 654M172 665L175 652M175 710L180 697L185 683M175 710L178 715M225 707L225 695M225 695L213 687L197 681M178 715L193 717L207 721M185 683L197 681M234 686L233 671L234 653M234 686L250 686L263 689M270 678L263 689M270 678L268 667L263 653M234 653L247 652L256 649M263 653L256 649M268 712L266 700L263 689M225 695L234 686M289 644L274 647L263 653M258 612L259 630L256 649M155 561L148 566L142 571M155 561L157 549M157 549L150 543L141 534M142 571L129 562L117 554M141 534L127 541L117 552M117 554L117 552M142 579L142 571M179 573L166 568L155 561M178 536L167 542L157 549M142 527L141 534M99 566L106 562L117 554M106 521L112 537L117 552M421 706L406 704L397 703M409 744L402 733L390 719M390 719L395 713L397 703M365 747L369 735L372 724M390 719L382 724L372 724M399 672L393 678L387 683M397 703L390 694L387 683M362 665L375 672L387 683M387 683L387 683M345 747L341 735L338 719M372 724L364 716L357 706M338 719L349 715L357 706M302 743L314 728L323 715M338 719L330 717L323 715M387 683L372 695L358 705M358 705L357 706M354 666L349 674L342 683M358 705L351 696L342 683M295 680L296 691L300 700M295 680L300 674L310 663M310 663L319 672L330 684M330 684L323 692L319 705M300 700L312 701L319 705M277 720L290 710L300 700M270 678L284 680L295 680M310 655L310 663M342 683L330 684M323 715L319 705M175 710L158 706L138 706M153 666L144 685L136 699M172 665L176 676L185 683M138 706L136 699M136 654L123 667L110 676M136 699L124 687L110 676M95 644L99 659L105 675M105 675L110 676M602 285L613 285L626 289M602 285L604 272L610 262M610 262L621 265L628 267M628 267L628 278L626 288M626 288L626 289M627 311L625 301L626 289M627 311L618 316M601 286L602 285M618 316L608 309L597 307M607 256L610 262M641 260L633 265L628 267M651 287L638 286L626 288M650 304L642 311L638 313M638 313L627 311M638 313L643 323L647 330M617 332L616 326L618 316M617 332L626 336L634 339M634 339L639 336L647 330M673 318L663 323L651 331M647 330L651 331M571 348L584 356L593 361M571 348L578 337L587 331M587 331L599 336L607 343M593 361L598 358L607 351M607 351L607 343M591 372L584 376L573 380M591 372L593 361M570 349L571 348M586 326L587 331M617 332L613 340L607 343M617 359L626 356L635 354M617 359L607 351M635 354L634 348L634 339M699 264L699 264M699 264L713 267M699 264L699 256L694 244M713 267L719 262L728 255M728 255L728 244L724 231M694 244L699 236L706 228M706 228L714 229L724 231M687 298L693 281L699 264M672 267L684 265L699 264M724 292L717 277L713 267M674 237L686 242L694 244M698 209L701 221L706 228M738 219L730 224L724 231M738 215L728 203L720 194M720 194L714 194L703 197M751 285L762 286L773 291M751 285L751 269L749 259M749 259L754 255M754 255L770 257L788 261M773 291L783 277L789 265M789 265L788 261M738 294L745 289L751 285M777 300L773 291M728 255L736 255L749 259M756 234L754 246L754 255M789 258L788 261M806 276L798 272L789 265M469 212L476 205L479 201M450 173L461 174M479 201L470 188L461 174M461 134L474 145L482 160M461 174L469 166L482 160M541 24L550 20M539 -6L543 6L551 15M551 15L550 20M570 0L570 3M551 15L560 11L570 3M562 50L563 43L568 35M550 20L559 27L568 35M387 18L393 7L395 -3M239 26L244 19L246 9M239 26L231 23L219 22M215 12L226 5L239 -4M215 12L219 22M246 9L245 0L240 -4M213 11L215 12M214 35L217 27L219 22M262 11L253 10L246 9M269 20L268 26M239 26L244 33M268 26L255 31L244 33M227 52L237 49L243 48M244 33L246 40L243 48M250 73L251 64L248 52M248 52L243 48M321 65L316 59L314 51M321 65L333 61L341 61M314 51L321 42L331 32M331 32L341 44L347 51M341 61L347 51M350 77L348 67L341 61M320 68L321 65M356 48L347 51M331 27L331 32M302 23L301 26M314 51L304 47M301 26L304 37L304 47M268 26L275 36M301 26L288 32L275 36M223 115L219 125L214 139M223 115L213 108L207 104M214 139L202 129L195 124M195 124L197 113L198 105M207 104L198 105M239 101L233 112M220 85L215 96L207 104M233 112L223 115M190 98L192 84L190 72M190 98L198 105M134 93L138 107L142 119M134 93L148 93L159 92M142 119L155 120L166 118M159 92L162 100L169 104M169 104L166 118M133 93L134 93M113 133L122 135L133 134M133 134L139 127L142 119M169 68L163 79L159 92M190 98L179 103L169 104M174 134L172 126L166 118M174 134L185 127L195 124M144 161L145 149M144 161L149 170L159 175M145 149L161 144L173 136M159 175L166 175L174 176M174 176L178 168L184 162M173 136L178 148L185 156M184 162L185 156M133 134L140 142L145 149M119 175L131 170L144 161M143 201L153 186L159 175M174 134L173 136M182 195L179 186L174 176M214 175L201 170L184 162M215 141L201 148L185 156M215 141L214 139M217 174L214 157L215 141M215 141L215 141M47 117L44 112M12 144L18 127L21 111M21 111L31 112L44 112M79 91L63 91L49 93M44 112L48 101L49 93M-2 40L1 53L0 69M-9 75L0 69M21 111L18 106M-6 104L6 106L18 106M271 71L283 77L294 78M271 71L273 62L273 49M294 78L293 64L292 54M292 54L283 49L275 48M273 49L275 48M258 81L264 75L271 71M297 82L294 78M248 52L258 49L273 49M304 47L296 51L292 54M275 36L275 48M246 155L254 153L267 152M246 155L239 150L235 143M235 143L238 132L243 125M267 152L269 145M269 145L266 136L260 125M243 125L251 125L260 125M234 178L240 169L246 155M275 162L267 152M215 141L224 144L235 143M233 112L237 119L243 125M290 131L280 140L269 145M265 114L260 125M145 310L138 301M145 310L136 324L129 338M138 301L131 301L123 299M123 299L116 308L106 314M106 314L108 325L114 336M129 338L119 339M114 336L119 339M148 264L143 282L138 301M150 311L145 310M144 350L138 341L129 338M106 277L116 286L123 299M91 309L98 310L106 314M81 343L95 338L114 336M112 372L115 356L119 339M785 423L786 431L791 436M785 423L771 421M771 421L766 433M766 433L777 441L783 451M791 436L790 446L784 451M784 451L783 451M816 429L805 433L791 436M796 407L789 417L785 423M768 414L771 421M749 437L745 425L740 415M749 437L759 437L766 433M806 459L793 456L784 451M778 458L783 451M778 458L781 474L781 484M716 483L714 472L712 462M716 483L710 489L698 494M686 482L692 493M686 482L695 473L705 463M705 463L712 462M692 493L698 494M732 493L732 492M716 516L708 504L698 494M732 492L726 487L716 483M685 481L686 482M679 512L686 502L692 493M684 450L693 455L705 463M741 468L727 462L718 456M741 468L749 466M749 466L754 459M754 459L753 450L748 439M748 439L732 445L719 448M719 448L718 456M732 492L738 479L741 468M712 462L718 456M748 500L755 493L764 490M764 490L755 478L749 466M764 490L772 490M778 458L765 456L754 459M749 437L748 439M716 442L719 448M591 372L597 377L606 386M586 402L596 396L607 392M606 386L607 392M617 359L618 371M606 386L611 381L618 371M636 457L629 448L626 440M606 463L607 453L612 439M626 440L612 439M583 445L595 437L606 432M612 439L606 432M588 416L599 422L605 424M606 432L605 424M762 109L752 101M762 109L769 106L780 103M780 103L782 94M763 73L751 78M752 101L751 92L751 78M762 109L763 118L759 129M759 129L750 133M750 133L736 130L726 126M726 126L727 118L732 107M752 101L744 104L732 107M737 60L742 71L750 78M750 78L751 78M792 178L783 170L780 164M817 153L807 150L797 148M780 164L789 157L797 148M747 153L757 158L764 166M747 153L735 156L725 161M725 161L728 169L730 178M730 178L742 181L755 183M755 183L758 175L764 166M759 129L763 132L771 136M750 133L747 144L747 153M773 162L772 151L771 136M773 162L764 166M716 154L725 161M716 154L710 159L699 169M720 194L726 184L730 178M759 197L756 190L755 183M780 164L773 162M812 107L797 106L784 107M812 107L809 114L810 124M810 124L799 129L790 131M784 107L786 116L789 130M789 130L790 131M815 103L812 107M780 103L784 107M820 133L810 124M797 148L793 141L790 131M771 136L781 134L789 130M716 152L721 139L723 128M716 152L701 147L689 140M723 128L710 123L698 115M689 140L691 128L693 119M693 119L698 115M726 126L723 128M716 154L716 152M677 147L684 143L689 140M667 118L679 118L693 119M680 94L690 102L698 110M698 110L698 115M755 547L768 554L779 558M755 547L759 538L758 528M768 525L758 528M768 525L779 536L790 545M790 545L784 550L780 558M780 558L779 558M748 553L755 547M766 576L772 567L779 558M751 523L758 528M777 515L768 525M795 544L790 545M791 573L786 567L780 558M173 743L182 753M173 743L160 745L151 749M182 753L184 767L182 778M151 749L147 765L147 778M147 778L160 786L170 789M182 778L174 788M174 788L170 789M178 715L174 731L173 743M214 749L198 749L182 753M214 781L199 779L182 778M154 824L160 809L170 789M121 799L124 786M124 786L137 783L147 778M201 818L188 803L174 788M233 653L227 653L215 655M233 653L228 639L226 623M215 655L207 645L197 639M226 623L213 620L199 619M199 619L198 629L197 639M197 681L204 669L215 655M234 653L233 653M239 609L234 618L226 623M175 652L185 648L197 639M195 613L199 619M131 738L122 755L113 771M131 738L128 729L125 724M125 724L114 723L106 723M106 723L96 736L91 744M91 744L96 757L100 767M100 767L113 771M124 786L120 779L113 771M151 749L143 745L131 738M138 706L134 713L125 724M77 781L87 775L100 767M66 743L78 741L91 744M74 711L83 709L92 708M74 711L67 703L58 694M92 708L93 693L96 682M96 682L82 677L63 674M63 674L63 684L58 694M59 737L68 723L74 711M106 723L100 718L92 708M33 707L46 702L58 694M105 675L96 682M60 669L63 674M645 360L654 357L659 352M645 360L642 370L643 379M665 383L669 372L673 361M665 383L653 379L643 379M659 352L669 354M669 354L673 361M635 354L645 360M651 331L654 340L659 352M618 371L629 377L641 380M641 380L643 379M668 389L665 383M693 367L685 366L673 361M683 333L674 344L669 354M494 236L498 223L505 215M479 201L479 201M479 201L494 209L505 215M526 216L514 212M505 215L514 212M579 30L583 17M579 30L587 39L596 44M583 17L591 15L599 12M596 44L603 35L609 27M609 27L602 19L599 12M570 3L576 10L583 17M568 35L579 30M596 46L596 44M625 29L618 28L609 27M604 2L602 -4M604 2L616 2L626 3M626 3L632 -2M599 12L604 2M627 28L627 17L626 3M653 14L642 5L632 -2M31 57L18 64L6 71M31 57L40 61L46 65M46 65L43 75L42 83M42 83L32 84L22 87M6 71L15 78L22 87M26 31L30 46L31 57M0 69L6 71M59 59L53 64L46 65M49 93L42 83M18 106L18 96L22 87M637 423L636 423M637 423L641 415L643 405M636 423L627 420L615 414M643 405L637 394M637 394L627 396L614 398M614 398L612 407L615 414M656 434L646 427L637 423M626 440L633 430L636 423M661 406L651 405L643 405M605 424L615 414M641 380L638 386L637 394M607 392L614 398M726 99L726 93L728 85M726 99L716 97L706 98M704 88L706 98M704 88L710 81L717 75M728 85L726 79L718 75M717 75L718 75M732 107L726 99M750 78L741 81L728 85M698 110L700 104L706 98M688 78L697 82L704 88M698 59L709 68L717 75M729 60L721 67L718 75M493 185L500 188L510 187M493 185L489 174L485 160M485 160L493 155L498 152M518 180L510 187M518 180L512 166L507 152M507 152L498 152M479 201L487 192L493 185M514 212L511 200L510 187M482 160L485 160M488 125L493 139L498 152M527 180L518 180M508 152L507 152" fill="none" stroke="#5c5f5f" stroke-width="1"/>
<polygon points="6.0,705.0 10.7,704.2 18.7,699.5 29.7,698.7 30.5,703.4 26.6,707.4 45.5,705.0 47.9,705.8 44.8,713.7 50.3,716.1 51.9,724.8 58.2,724.0 66.1,727.2 70.9,726.4 72.4,731.1 75.6,735.9 74.0,740.6 66.1,743.0 69.3,748.5 77.2,750.9 81.9,753.3 88.3,756.4 97.7,755.6 105.7,753.3 107.2,758.0 113.6,760.0 115.1,750.1 119.9,743.8 127.8,740.6 132.5,742.2 140.5,745.4 146.8,750.1 148.4,760.0 157.9,760.0 156.3,742.2 149.1,726.4 153.1,720.1 158.0,716.0 170.0,712.0 186.0,700.0 198.0,694.0 204.0,688.0 205.0,677.0 208.5,672.0 205.3,668.8 201.0,668.0 205.3,668.0 210.1,662.4 213.3,652.8 217.3,650.4 219.7,655.2 229.3,652.8 238.9,648.0 242.1,645.6 251.7,646.4 258.1,649.6 269.3,652.0 277.3,653.6 283.7,651.2 287.3,649.1 294.7,650.3 299.6,655.3 305.8,655.3 307.0,638.0 309.4,625.7 313.1,622.0 320.5,626.9 323.0,642.9 327.9,652.8 334.1,657.7 346.4,657.7 353.8,655.3 363.6,652.8 373.5,650.3 383.3,647.9 393.2,646.6 406.0,647.9 418.3,647.9 430.6,650.3 442.9,652.8 455.3,656.5 467.6,662.7 479.9,670.0 489.7,677.4 499.6,684.8 507.0,692.2 509.4,702.1 511.9,710.7 521.8,711.9 534.1,719.3 543.9,715.6 553.8,710.7 563.6,704.5 571.0,697.1 578.4,689.7 583.3,682.4 590.7,677.4 598.1,673.7 606.0,673.7 613.4,675.0 620.8,682.4 630.6,686.0 640.5,697.1 645.4,707.0 655.3,714.4 657.7,724.2 667.6,734.1 677.4,746.4 682.4,756.2 679.9,763.6 689.7,758.7 699.6,761.2 704.5,773.5 711.9,780.9 714.4,790.7 714.4,810.0 2.0,810.0 2.0,704.5" fill="#04466b" stroke="#000" stroke-width="1" />
<polygon points="810.0,570.0 800.0,572.0 793.2,576.0 795.7,585.8 789.5,595.7 795.7,603.0 793.2,606.0 798.1,618.3 800.6,630.6 795.7,638.0 803.0,645.4 806.0,655.3 810.0,660.0" fill="#04466b" stroke="#000" stroke-width="1" />
<polygon points="197.3,666.4 194.1,672.0 186.1,680.0 181.3,679.2 176.4,682.4 179.7,687.2 185.3,688.0 186.1,692.8 190.9,695.2 195.7,692.8 197.3,688.0 198.9,682.4 202.9,678.4 208.5,672.0 205.3,668.8" fill="#04466b" stroke="#000" stroke-width="1" />
<polygon points="343.9,655.0 351.3,651.6 356.2,646.6 357.5,639.3 359.9,646.6 363.6,644.2 366.1,651.0" fill="#04466b" stroke="#000" stroke-width="1" />
<polygon points="373.5,649.0 378.4,642.9 377.2,633.1 380.9,635.6 383.3,640.5 387.0,630.6 389.5,638.0 393.2,641.7 399.3,642.9 392.0,647.0" fill="#04466b" stroke="#000" stroke-width="1" />
<polygon points="418.3,648.0 419.5,641.7 429.4,638.0 435.6,642.9 450.3,639.3 454.0,645.4 452.8,655.0" fill="#04466b" stroke="#000" stroke-width="1" />
<polygon points="473.7,664.0 479.9,657.7 487.3,661.4 497.1,652.8 494.7,659.0 487.3,665.1 489.7,677.0 482.4,671.0" fill="#04466b" stroke="#000" stroke-width="1" />
<polygon points="521.8,713.4 526.7,714.4 532.8,710.7 539.0,707.0 543.9,704.5 548.9,700.8 547.6,705.8 553.8,704.5 561.2,702.1 569.8,698.4 566.1,704.5 553.8,712.4 543.9,716.8 534.1,720.8" fill="#04466b" stroke="#000" stroke-width="1" />
<polygon points="506.5,694.2 510.7,692.7 514.4,698.4 514.9,705.8 512.9,711.9 509.4,704.5 507.5,699.6" fill="#04466b" stroke="#000" stroke-width="1" />
<polygon points="578.4,691.0 579.6,685.3 583.8,682.8 588.3,684.3 587.8,691.0 583.3,689.3" fill="#04466b" stroke="#000" stroke-width="1" />
<polygon points="15.5,720.1 26.6,716.1 39.2,721.6 34.5,729.5 28.1,728.8 21.8,724.0" fill="#5e4f4b" stroke="#000" stroke-width="1" />
<polygon points="162.0,704.0 182.9,716.9 200.5,736.1 210.1,736.1 218.1,739.3 221.3,745.7 229.3,748.9 232.5,755.3 240.5,755.3 242.1,762.0 213.3,762.0 202.1,752.1 194.1,747.3 184.5,742.5 181.3,736.1 170.0,729.7 157.2,720.1 154.0,712.0" fill="#5e4f4b" stroke="none" stroke-width="1" />
<polygon points="168.4,712.9 186.1,700.1 198.1,694.0 204.0,688.0 205.0,677.0 210.1,678.4 211.7,692.9 206.9,704.1 200.5,710.5 194.1,715.3 197.3,723.3 202.1,729.7 200.5,736.1 182.9,716.9 170.0,715.3" fill="#5e4f4b" stroke="none" stroke-width="1" />
<polygon points="161.2,703.3 171.6,710.5 184.5,716.9 182.9,719.3 162.0,707.3" fill="#5e4f4b" stroke="none" stroke-width="1" />
<polyline points="200.5,736.1 210.1,736.1 218.1,739.3 221.3,745.7 229.3,748.9 232.5,755.3 240.5,755.3 242.1,762.0" fill="none" stroke="#000" stroke-width="1" />
<polyline points="213.3,762.0 202.1,752.1 194.1,747.3 184.5,742.5 181.3,736.1 170.0,729.7 157.2,720.1 153.5,716.0" fill="none" stroke="#000" stroke-width="1" />
<g fill="#000"><rect x="217" y="704" width="4" height="3"/><rect x="217" y="695" width="2" height="1"/><rect x="217" y="711" width="1" height="1"/><rect x="212" y="683" width="3" height="1"/><rect x="215" y="673" width="1" height="2"/><rect x="221" y="679" width="1" height="1"/><rect x="216" y="691" width="1" height="1"/><rect x="227" y="672" width="1" height="1"/><rect x="224" y="684" width="1" height="2"/><rect x="224" y="699" width="1" height="3"/><rect x="209" y="673" width="2" height="1"/><rect x="226" y="683" width="2" height="1"/><rect x="222" y="697" width="3" height="3"/><rect x="219" y="675" width="2" height="1"/><rect x="212" y="686" width="2" height="2"/><rect x="219" y="674" width="1" height="3"/><rect x="209" y="689" width="3" height="2"/><rect x="209" y="697" width="1" height="2"/><rect x="226" y="680" width="1" height="2"/><rect x="208" y="687" width="3" height="1"/><rect x="221" y="677" width="4" height="1"/><rect x="224" y="674" width="1" height="1"/><rect x="208" y="698" width="1" height="1"/><rect x="206" y="702" width="1" height="1"/><rect x="218" y="685" width="1" height="3"/><rect x="202" y="702" width="2" height="1"/><rect x="219" y="675" width="3" height="2"/><rect x="225" y="673" width="4" height="2"/><rect x="208" y="683" width="4" height="2"/><rect x="217" y="706" width="2" height="1"/><rect x="202" y="703" width="1" height="3"/><rect x="225" y="690" width="1" height="2"/><rect x="209" y="675" width="2" height="1"/><rect x="216" y="679" width="3" height="2"/><rect x="227" y="702" width="2" height="2"/><rect x="206" y="692" width="1" height="1"/><rect x="227" y="699" width="2" height="1"/><rect x="203" y="693" width="3" height="2"/><rect x="224" y="688" width="2" height="3"/><rect x="215" y="673" width="2" height="1"/><rect x="215" y="701" width="2" height="1"/><rect x="221" y="702" width="2" height="1"/><rect x="217" y="697" width="1" height="2"/><rect x="214" y="683" width="4" height="1"/><rect x="212" y="707" width="4" height="3"/><rect x="222" y="687" width="4" height="1"/><rect x="220" y="708" width="2" height="1"/><rect x="224" y="702" width="2" height="1"/><rect x="213" y="695" width="1" height="1"/><rect x="212" y="702" width="4" height="3"/><rect x="220" y="679" width="3" height="2"/><rect x="218" y="690" width="3" height="2"/><rect x="221" y="699" width="4" height="1"/><rect x="204" y="697" width="3" height="3"/><rect x="203" y="705" width="1" height="3"/><rect x="227" y="679" width="1" height="1"/><rect x="207" y="680" width="1" height="2"/><rect x="199" y="692" width="2" height="3"/><rect x="216" y="697" width="1" height="3"/><rect x="225" y="672" width="2" height="1"/><rect x="223" y="709" width="4" height="2"/><rect x="209" y="674" width="3" height="1"/><rect x="201" y="695" width="2" height="2"/><rect x="207" y="687" width="1" height="2"/><rect x="210" y="696" width="3" height="1"/><rect x="212" y="679" width="2" height="2"/><rect x="212" y="681" width="1" height="2"/><rect x="218" y="688" width="2" height="2"/><rect x="225" y="695" width="2" height="3"/><rect x="224" y="696" width="2" height="2"/><rect x="227" y="693" width="2" height="3"/><rect x="209" y="713" width="1" height="2"/><rect x="216" y="704" width="2" height="2"/><rect x="205" y="673" width="2" height="2"/><rect x="226" y="678" width="1" height="1"/><rect x="205" y="674" width="1" height="2"/><rect x="221" y="683" width="2" height="1"/><rect x="219" y="684" width="2" height="2"/><rect x="227" y="694" width="3" height="3"/><rect x="225" y="673" width="1" height="1"/><rect x="206" y="702" width="3" height="1"/><rect x="220" y="673" width="2" height="1"/><rect x="218" y="707" width="1" height="1"/><rect x="218" y="677" width="4" height="2"/><rect x="204" y="690" width="2" height="2"/><rect x="215" y="702" width="4" height="3"/><rect x="212" y="711" width="2" height="2"/><rect x="210" y="709" width="1" height="1"/><rect x="212" y="705" width="2" height="1"/><rect x="219" y="691" width="2" height="3"/><rect x="202" y="693" width="3" height="2"/><rect x="227" y="695" width="2" height="2"/><rect x="214" y="674" width="4" height="1"/><rect x="206" y="676" width="1" height="3"/><rect x="226" y="686" width="2" height="1"/><rect x="228" y="702" width="1" height="1"/><rect x="223" y="681" width="4" height="1"/><rect x="219" y="678" width="2" height="3"/><rect x="225" y="678" width="3" height="1"/><rect x="210" y="679" width="3" height="1"/><rect x="209" y="675" width="1" height="2"/><rect x="215" y="704" width="3" height="1"/><rect x="218" y="693" width="2" height="3"/><rect x="209" y="674" width="4" height="1"/><rect x="202" y="699" width="3" height="1"/><rect x="225" y="696" width="3" height="1"/><rect x="206" y="696" width="2" height="1"/><rect x="213" y="678" width="1" height="1"/><rect x="211" y="689" width="1" height="3"/><rect x="215" y="674" width="1" height="2"/><rect x="216" y="682" width="2" height="2"/><rect x="227" y="677" width="3" height="1"/><rect x="214" y="689" width="1" height="2"/><rect x="218" y="682" width="1" height="1"/><rect x="227" y="701" width="1" height="1"/><rect x="219" y="688" width="1" height="1"/><rect x="208" y="698" width="2" height="2"/><rect x="209" y="703" width="2" height="3"/><rect x="207" y="699" width="2" height="2"/><rect x="204" y="680" width="1" height="1"/><rect x="204" y="693" width="2" height="3"/><rect x="221" y="672" width="2" height="1"/><rect x="224" y="699" width="2" height="1"/><rect x="212" y="676" width="1" height="3"/><rect x="203" y="688" width="2" height="2"/><rect x="203" y="683" width="2" height="1"/><rect x="220" y="701" width="1" height="2"/><rect x="225" y="687" width="2" height="1"/><rect x="226" y="702" width="4" height="2"/><rect x="212" y="713" width="1" height="3"/><rect x="208" y="692" width="1" height="3"/><rect x="228" y="673" width="4" height="1"/><rect x="215" y="700" width="3" height="2"/><rect x="225" y="702" width="4" height="1"/><rect x="203" y="688" width="1" height="3"/><rect x="228" y="692" width="1" height="1"/><rect x="217" y="691" width="2" height="1"/><rect x="212" y="691" width="4" height="2"/><rect x="223" y="708" width="3" height="1"/><rect x="226" y="703" width="1" height="2"/><rect x="201" y="692" width="4" height="1"/><rect x="217" y="693" width="1" height="1"/><rect x="206" y="690" width="2" height="3"/><rect x="227" y="680" width="3" height="3"/><rect x="210" y="695" width="1" height="1"/><rect x="221" y="676" width="1" height="2"/><rect x="200" y="703" width="3" height="1"/><rect x="211" y="687" width="2" height="2"/><rect x="221" y="694" width="1" height="3"/><rect x="218" y="710" width="1" height="2"/><rect x="201" y="685" width="1" height="1"/><rect x="222" y="685" width="1" height="2"/><rect x="200" y="683" width="1" height="2"/><rect x="227" y="701" width="2" height="1"/><rect x="213" y="683" width="4" height="1"/><rect x="222" y="710" width="1" height="1"/><rect x="210" y="685" width="3" height="1"/><rect x="225" y="700" width="1" height="2"/><rect x="218" y="706" width="1" height="3"/><rect x="199" y="690" width="1" height="2"/><rect x="215" y="686" width="2" height="1"/><rect x="202" y="693" width="2" height="1"/><rect x="199" y="695" width="4" height="2"/><rect x="227" y="708" width="2" height="1"/><rect x="226" y="698" width="1" height="2"/><rect x="211" y="688" width="2" height="1"/><rect x="223" y="703" width="1" height="1"/><rect x="214" y="679" width="4" height="1"/><rect x="211" y="712" width="2" height="1"/><rect x="208" y="691" width="1" height="2"/><rect x="201" y="707" width="1" height="3"/><rect x="211" y="720" width="2" height="2"/><rect x="183" y="705" width="2" height="3"/><rect x="198" y="732" width="2" height="2"/><rect x="189" y="711" width="1" height="1"/><rect x="200" y="713" width="1" height="1"/><rect x="194" y="710" width="4" height="1"/><rect x="202" y="715" width="1" height="1"/><rect x="208" y="718" width="1" height="1"/><rect x="188" y="704" width="4" height="1"/><rect x="210" y="708" width="2" height="2"/><rect x="204" y="731" width="3" height="1"/><rect x="207" y="714" width="1" height="1"/><rect x="198" y="722" width="1" height="2"/><rect x="201" y="719" width="3" height="2"/><rect x="199" y="725" width="2" height="2"/><rect x="211" y="725" width="4" height="1"/><rect x="199" y="729" width="2" height="2"/><rect x="189" y="711" width="1" height="1"/><rect x="206" y="722" width="4" height="2"/><rect x="191" y="726" width="1" height="1"/><rect x="206" y="724" width="2" height="1"/><rect x="204" y="730" width="4" height="2"/><rect x="201" y="708" width="3" height="1"/><rect x="210" y="709" width="3" height="2"/><rect x="195" y="701" width="2" height="2"/><rect x="210" y="733" width="3" height="1"/><rect x="195" y="705" width="4" height="2"/><rect x="204" y="736" width="1" height="1"/><rect x="189" y="712" width="2" height="2"/><rect x="185" y="715" width="1" height="1"/><rect x="203" y="721" width="4" height="3"/><rect x="210" y="727" width="2" height="1"/><rect x="196" y="720" width="1" height="1"/><rect x="196" y="704" width="2" height="1"/><rect x="196" y="706" width="2" height="2"/><rect x="200" y="721" width="2" height="1"/><rect x="193" y="705" width="4" height="1"/><rect x="205" y="703" width="2" height="1"/><rect x="208" y="735" width="2" height="1"/><rect x="209" y="724" width="1" height="3"/><rect x="202" y="729" width="1" height="1"/><rect x="189" y="706" width="1" height="1"/><rect x="205" y="730" width="1" height="3"/><rect x="210" y="720" width="3" height="3"/><rect x="209" y="732" width="2" height="1"/><rect x="208" y="708" width="2" height="1"/><rect x="213" y="728" width="1" height="2"/><rect x="212" y="717" width="1" height="1"/><rect x="213" y="735" width="1" height="3"/><rect x="183" y="714" width="2" height="3"/><rect x="205" y="711" width="1" height="2"/><rect x="213" y="727" width="1" height="1"/><rect x="195" y="711" width="2" height="3"/><rect x="204" y="729" width="3" height="1"/><rect x="192" y="713" width="1" height="2"/><rect x="196" y="709" width="1" height="1"/><rect x="203" y="703" width="2" height="1"/><rect x="200" y="716" width="1" height="2"/><rect x="209" y="731" width="1" height="1"/><rect x="197" y="705" width="1" height="1"/><rect x="208" y="706" width="1" height="1"/><rect x="191" y="717" width="2" height="2"/><rect x="212" y="722" width="4" height="2"/><rect x="198" y="703" width="2" height="2"/><rect x="196" y="722" width="4" height="3"/><rect x="202" y="722" width="1" height="1"/><rect x="196" y="726" width="2" height="2"/><rect x="188" y="713" width="2" height="1"/><rect x="213" y="709" width="2" height="1"/><rect x="191" y="717" width="2" height="1"/><rect x="203" y="705" width="1" height="2"/><rect x="184" y="715" width="1" height="1"/><rect x="203" y="727" width="2" height="1"/><rect x="201" y="706" width="1" height="1"/><rect x="211" y="734" width="1" height="1"/><rect x="189" y="716" width="2" height="1"/><rect x="206" y="714" width="1" height="1"/><rect x="210" y="721" width="2" height="1"/><rect x="186" y="715" width="2" height="1"/><rect x="210" y="720" width="2" height="1"/><rect x="212" y="706" width="1" height="2"/><rect x="183" y="714" width="1" height="2"/><rect x="203" y="703" width="1" height="1"/><rect x="196" y="719" width="3" height="1"/><rect x="207" y="703" width="3" height="1"/><rect x="184" y="714" width="2" height="1"/><rect x="200" y="716" width="1" height="3"/><rect x="200" y="711" width="3" height="2"/><rect x="212" y="736" width="2" height="1"/><rect x="201" y="725" width="4" height="2"/><rect x="185" y="708" width="3" height="2"/><rect x="186" y="719" width="3" height="1"/><rect x="208" y="706" width="2" height="1"/><rect x="198" y="721" width="1" height="2"/><rect x="197" y="703" width="1" height="1"/><rect x="193" y="706" width="2" height="1"/><rect x="208" y="718" width="1" height="3"/><rect x="187" y="710" width="1" height="3"/><rect x="191" y="707" width="1" height="3"/><rect x="188" y="706" width="1" height="3"/><rect x="194" y="705" width="2" height="1"/><rect x="204" y="722" width="4" height="3"/><rect x="201" y="722" width="1" height="2"/><rect x="212" y="705" width="1" height="3"/><rect x="204" y="704" width="1" height="3"/><rect x="197" y="724" width="3" height="3"/><rect x="208" y="735" width="4" height="1"/><rect x="191" y="711" width="1" height="1"/><rect x="199" y="733" width="2" height="2"/><rect x="188" y="709" width="2" height="1"/><rect x="212" y="708" width="1" height="1"/><rect x="194" y="704" width="2" height="2"/><rect x="202" y="724" width="1" height="1"/><rect x="187" y="718" width="4" height="2"/><rect x="196" y="721" width="1" height="1"/><rect x="196" y="721" width="3" height="2"/><rect x="212" y="709" width="1" height="3"/><rect x="188" y="720" width="2" height="1"/><rect x="192" y="705" width="2" height="2"/><rect x="191" y="723" width="4" height="1"/><rect x="212" y="705" width="1" height="1"/><rect x="199" y="707" width="2" height="3"/><rect x="206" y="704" width="2" height="1"/><rect x="192" y="711" width="2" height="2"/><rect x="213" y="715" width="1" height="1"/><rect x="185" y="702" width="1" height="3"/><rect x="210" y="719" width="1" height="2"/><rect x="196" y="709" width="1" height="2"/><rect x="199" y="724" width="4" height="2"/><rect x="170" y="731" width="1" height="2"/><rect x="165" y="742" width="1" height="1"/><rect x="169" y="735" width="2" height="1"/><rect x="163" y="738" width="1" height="2"/><rect x="162" y="753" width="4" height="2"/><rect x="155" y="729" width="4" height="2"/><rect x="169" y="739" width="3" height="3"/><rect x="179" y="748" width="3" height="1"/><rect x="159" y="725" width="4" height="3"/><rect x="165" y="726" width="4" height="1"/><rect x="178" y="744" width="4" height="2"/><rect x="166" y="731" width="1" height="2"/><rect x="180" y="753" width="3" height="1"/><rect x="168" y="738" width="2" height="2"/><rect x="173" y="748" width="2" height="3"/><rect x="162" y="756" width="1" height="1"/><rect x="168" y="751" width="3" height="3"/><rect x="178" y="754" width="3" height="2"/><rect x="170" y="745" width="1" height="1"/><rect x="185" y="743" width="3" height="2"/><rect x="196" y="751" width="1" height="1"/><rect x="182" y="736" width="1" height="3"/><rect x="163" y="757" width="3" height="1"/><rect x="157" y="734" width="1" height="3"/><rect x="186" y="748" width="2" height="3"/><rect x="194" y="753" width="3" height="1"/><rect x="160" y="718" width="1" height="1"/><rect x="178" y="734" width="2" height="2"/><rect x="163" y="743" width="2" height="2"/><rect x="163" y="719" width="2" height="1"/><rect x="157" y="732" width="1" height="1"/><rect x="161" y="756" width="2" height="3"/><rect x="162" y="722" width="2" height="1"/><rect x="178" y="748" width="4" height="3"/><rect x="196" y="753" width="2" height="2"/><rect x="200" y="754" width="3" height="3"/><rect x="163" y="740" width="4" height="3"/><rect x="199" y="757" width="1" height="1"/><rect x="188" y="746" width="2" height="1"/><rect x="162" y="739" width="4" height="2"/><rect x="200" y="754" width="4" height="1"/><rect x="173" y="753" width="2" height="2"/><rect x="178" y="755" width="3" height="2"/><rect x="175" y="733" width="3" height="2"/><rect x="181" y="749" width="2" height="1"/><rect x="172" y="748" width="1" height="1"/><rect x="188" y="749" width="3" height="1"/><rect x="196" y="753" width="4" height="3"/><rect x="169" y="734" width="3" height="2"/><rect x="185" y="757" width="3" height="1"/><rect x="173" y="733" width="1" height="1"/><rect x="170" y="751" width="2" height="1"/><rect x="192" y="755" width="3" height="1"/><rect x="178" y="753" width="3" height="1"/><rect x="181" y="753" width="2" height="3"/><rect x="162" y="747" width="2" height="1"/><rect x="159" y="734" width="1" height="1"/><rect x="169" y="740" width="3" height="3"/><rect x="168" y="744" width="1" height="2"/><rect x="170" y="745" width="3" height="2"/><rect x="187" y="752" width="1" height="1"/><rect x="197" y="756" width="1" height="2"/><rect x="175" y="735" width="2" height="1"/><rect x="159" y="750" width="3" height="2"/><rect x="162" y="723" width="3" height="2"/><rect x="180" y="740" width="3" height="1"/><rect x="169" y="730" width="3" height="1"/><rect x="160" y="755" width="1" height="1"/><rect x="164" y="758" width="2" height="1"/><rect x="192" y="748" width="1" height="3"/><rect x="169" y="726" width="1" height="3"/><rect x="195" y="755" width="2" height="1"/><rect x="166" y="723" width="2" height="1"/><rect x="155" y="723" width="4" height="2"/><rect x="196" y="756" width="1" height="2"/><rect x="179" y="745" width="1" height="2"/><rect x="160" y="747" width="1" height="1"/><rect x="173" y="756" width="2" height="1"/><rect x="174" y="729" width="4" height="1"/><rect x="168" y="722" width="1" height="2"/><rect x="164" y="725" width="4" height="3"/><rect x="186" y="746" width="4" height="2"/><rect x="180" y="753" width="4" height="1"/><rect x="162" y="736" width="3" height="3"/><rect x="171" y="736" width="3" height="1"/><rect x="169" y="740" width="3" height="1"/><rect x="167" y="736" width="3" height="2"/><rect x="177" y="740" width="1" height="3"/><rect x="167" y="723" width="2" height="1"/><rect x="156" y="731" width="4" height="1"/><rect x="164" y="728" width="2" height="2"/><rect x="174" y="757" width="2" height="3"/><rect x="204" y="757" width="3" height="1"/><rect x="196" y="756" width="3" height="2"/><rect x="190" y="755" width="4" height="3"/><rect x="201" y="755" width="3" height="2"/><rect x="168" y="757" width="2" height="2"/><rect x="179" y="752" width="1" height="2"/><rect x="179" y="737" width="4" height="2"/><rect x="165" y="726" width="4" height="3"/><rect x="164" y="722" width="1" height="2"/><rect x="198" y="752" width="1" height="1"/><rect x="180" y="742" width="4" height="1"/><rect x="176" y="754" width="1" height="1"/><rect x="171" y="748" width="3" height="3"/><rect x="182" y="748" width="2" height="3"/><rect x="164" y="723" width="3" height="2"/><rect x="201" y="754" width="2" height="1"/><rect x="163" y="739" width="2" height="1"/><rect x="168" y="726" width="2" height="1"/><rect x="182" y="742" width="1" height="1"/><rect x="190" y="752" width="1" height="2"/><rect x="176" y="743" width="2" height="1"/><rect x="156" y="720" width="2" height="1"/><rect x="172" y="756" width="2" height="1"/><rect x="156" y="734" width="3" height="1"/><rect x="169" y="749" width="1" height="2"/><rect x="184" y="754" width="2" height="1"/><rect x="163" y="752" width="2" height="1"/><rect x="155" y="720" width="3" height="2"/><rect x="168" y="746" width="1" height="3"/><rect x="203" y="755" width="4" height="1"/><rect x="163" y="726" width="1" height="2"/><rect x="207" y="757" width="4" height="2"/><rect x="185" y="752" width="2" height="1"/><rect x="155" y="728" width="4" height="1"/><rect x="164" y="738" width="2" height="2"/><rect x="167" y="733" width="1" height="2"/><rect x="161" y="746" width="1" height="1"/><rect x="162" y="747" width="3" height="2"/><rect x="173" y="733" width="3" height="1"/><rect x="173" y="729" width="1" height="1"/><rect x="160" y="730" width="2" height="2"/><rect x="170" y="726" width="1" height="2"/><rect x="180" y="757" width="1" height="1"/><rect x="160" y="730" width="4" height="2"/><rect x="162" y="733" width="2" height="3"/><rect x="162" y="734" width="1" height="2"/><rect x="170" y="727" width="1" height="1"/><rect x="182" y="744" width="1" height="3"/><rect x="185" y="743" width="2" height="3"/><rect x="187" y="747" width="2" height="3"/><rect x="167" y="730" width="2" height="3"/><rect x="174" y="742" width="4" height="1"/><rect x="186" y="757" width="3" height="1"/><rect x="201" y="757" width="2" height="2"/><rect x="170" y="744" width="2" height="1"/><rect x="201" y="758" width="4" height="3"/><rect x="183" y="741" width="3" height="3"/><rect x="158" y="721" width="4" height="1"/><rect x="164" y="744" width="4" height="1"/><rect x="186" y="749" width="3" height="2"/><rect x="164" y="739" width="3" height="1"/><rect x="180" y="743" width="4" height="2"/><rect x="175" y="758" width="3" height="3"/><rect x="178" y="736" width="2" height="1"/><rect x="170" y="731" width="4" height="2"/><rect x="191" y="746" width="2" height="1"/><rect x="170" y="744" width="4" height="2"/><rect x="162" y="756" width="2" height="2"/><rect x="165" y="731" width="1" height="1"/><rect x="194" y="754" width="3" height="2"/><rect x="164" y="742" width="1" height="2"/><rect x="180" y="735" width="1" height="3"/><rect x="179" y="754" width="1" height="2"/><rect x="172" y="755" width="2" height="2"/><rect x="163" y="757" width="1" height="1"/><rect x="158" y="741" width="4" height="2"/><rect x="195" y="755" width="1" height="1"/><rect x="174" y="753" width="1" height="1"/><rect x="183" y="745" width="2" height="1"/><rect x="172" y="751" width="4" height="3"/><rect x="173" y="748" width="4" height="1"/><rect x="180" y="750" width="1" height="1"/><rect x="183" y="758" width="1" height="1"/><rect x="205" y="757" width="1" height="2"/><rect x="177" y="752" width="1" height="3"/><rect x="167" y="734" width="2" height="1"/><rect x="178" y="753" width="2" height="3"/><rect x="181" y="752" width="1" height="1"/><rect x="180" y="755" width="3" height="1"/><rect x="207" y="758" width="2" height="1"/><rect x="176" y="731" width="2" height="1"/><rect x="157" y="727" width="1" height="1"/><rect x="159" y="747" width="1" height="1"/><rect x="161" y="742" width="1" height="2"/><rect x="189" y="753" width="4" height="2"/><rect x="176" y="732" width="2" height="2"/><rect x="177" y="750" width="4" height="1"/><rect x="173" y="751" width="3" height="1"/><rect x="167" y="723" width="2" height="2"/><rect x="159" y="745" width="1" height="2"/><rect x="170" y="744" width="1" height="3"/><rect x="190" y="752" width="3" height="2"/><rect x="174" y="740" width="3" height="1"/><rect x="161" y="739" width="2" height="2"/><rect x="162" y="735" width="1" height="3"/><rect x="171" y="742" width="3" height="1"/><rect x="184" y="744" width="1" height="3"/><rect x="165" y="755" width="1" height="3"/><rect x="86" y="750" width="1" height="1"/><rect x="83" y="751" width="1" height="1"/><rect x="74" y="755" width="1" height="3"/><rect x="101" y="757" width="4" height="2"/><rect x="92" y="757" width="2" height="2"/><rect x="69" y="745" width="2" height="3"/><rect x="70" y="744" width="2" height="2"/><rect x="104" y="756" width="4" height="3"/><rect x="85" y="755" width="1" height="2"/><rect x="77" y="757" width="3" height="2"/><rect x="69" y="752" width="2" height="1"/><rect x="85" y="751" width="3" height="3"/><rect x="80" y="750" width="1" height="1"/><rect x="80" y="748" width="1" height="1"/><rect x="86" y="753" width="2" height="3"/><rect x="88" y="751" width="2" height="1"/><rect x="88" y="757" width="4" height="1"/><rect x="77" y="753" width="3" height="2"/><rect x="81" y="753" width="2" height="1"/><rect x="73" y="748" width="1" height="1"/><rect x="102" y="758" width="2" height="1"/><rect x="80" y="749" width="1" height="1"/><rect x="89" y="757" width="1" height="2"/><rect x="75" y="749" width="1" height="1"/><rect x="95" y="751" width="2" height="3"/><rect x="77" y="754" width="2" height="1"/><rect x="94" y="754" width="4" height="2"/><rect x="72" y="749" width="1" height="1"/><rect x="78" y="748" width="2" height="1"/><rect x="80" y="754" width="2" height="2"/><rect x="92" y="751" width="2" height="2"/><rect x="70" y="746" width="3" height="1"/><rect x="97" y="754" width="1" height="2"/><rect x="72" y="754" width="3" height="1"/><rect x="101" y="757" width="2" height="1"/><rect x="84" y="758" width="1" height="1"/><rect x="105" y="756" width="2" height="1"/><rect x="89" y="754" width="4" height="1"/><rect x="76" y="753" width="3" height="2"/><rect x="86" y="750" width="4" height="1"/><rect x="75" y="757" width="3" height="1"/><rect x="91" y="754" width="3" height="2"/><rect x="75" y="748" width="2" height="2"/><rect x="74" y="756" width="1" height="2"/><rect x="92" y="750" width="2" height="1"/><rect x="135" y="752" width="2" height="1"/><rect x="145" y="757" width="1" height="3"/><rect x="120" y="757" width="1" height="1"/><rect x="142" y="756" width="2" height="2"/><rect x="136" y="754" width="2" height="3"/><rect x="134" y="744" width="4" height="1"/><rect x="141" y="755" width="3" height="2"/><rect x="123" y="748" width="1" height="1"/><rect x="119" y="752" width="4" height="2"/><rect x="121" y="757" width="1" height="3"/><rect x="129" y="755" width="2" height="1"/><rect x="120" y="749" width="3" height="1"/><rect x="138" y="747" width="2" height="2"/><rect x="117" y="751" width="3" height="1"/><rect x="124" y="754" width="1" height="1"/><rect x="133" y="747" width="2" height="1"/><rect x="120" y="750" width="2" height="1"/><rect x="137" y="747" width="2" height="2"/><rect x="135" y="747" width="3" height="2"/><rect x="127" y="756" width="4" height="1"/><rect x="135" y="747" width="3" height="1"/><rect x="142" y="757" width="1" height="3"/><rect x="129" y="745" width="1" height="2"/><rect x="130" y="747" width="2" height="2"/><rect x="135" y="759" width="4" height="1"/><rect x="131" y="756" width="3" height="2"/><rect x="121" y="753" width="2" height="1"/><rect x="136" y="746" width="3" height="2"/><rect x="130" y="752" width="3" height="3"/><rect x="145" y="759" width="3" height="3"/><rect x="123" y="753" width="2" height="2"/><rect x="138" y="747" width="4" height="1"/><rect x="138" y="753" width="2" height="1"/><rect x="136" y="759" width="2" height="1"/><rect x="141" y="758" width="1" height="1"/><rect x="125" y="743" width="2" height="1"/><rect x="137" y="748" width="4" height="3"/><rect x="142" y="751" width="1" height="2"/><rect x="137" y="751" width="4" height="3"/><rect x="142" y="756" width="2" height="1"/><rect x="133" y="758" width="1" height="3"/><rect x="136" y="754" width="2" height="3"/><rect x="139" y="756" width="4" height="1"/><rect x="117" y="751" width="1" height="2"/><rect x="136" y="753" width="1" height="2"/><rect x="141" y="754" width="3" height="1"/><rect x="126" y="755" width="1" height="1"/><rect x="140" y="748" width="1" height="1"/><rect x="134" y="753" width="1" height="2"/><rect x="123" y="744" width="1" height="2"/><rect x="146" y="758" width="2" height="2"/><rect x="116" y="753" width="4" height="2"/><rect x="127" y="742" width="2" height="3"/><rect x="135" y="749" width="3" height="1"/><rect x="125" y="754" width="4" height="2"/><rect x="134" y="750" width="1" height="1"/><rect x="118" y="751" width="3" height="1"/><rect x="118" y="751" width="3" height="1"/><rect x="140" y="757" width="1" height="3"/><rect x="124" y="746" width="2" height="1"/><rect x="804" y="655" width="4" height="2"/><rect x="799" y="598" width="3" height="2"/><rect x="805" y="623" width="1" height="1"/><rect x="793" y="597" width="2" height="1"/><rect x="802" y="639" width="3" height="2"/><rect x="804" y="589" width="1" height="2"/><rect x="804" y="581" width="2" height="1"/><rect x="803" y="576" width="1" height="1"/><rect x="798" y="608" width="1" height="1"/><rect x="795" y="624" width="1" height="3"/><rect x="805" y="576" width="2" height="1"/><rect x="802" y="612" width="1" height="1"/><rect x="802" y="579" width="2" height="2"/><rect x="804" y="649" width="3" height="1"/><rect x="798" y="594" width="2" height="2"/><rect x="796" y="614" width="3" height="1"/><rect x="804" y="637" width="1" height="2"/><rect x="801" y="621" width="3" height="1"/><rect x="800" y="622" width="2" height="1"/><rect x="795" y="592" width="2" height="3"/><rect x="805" y="621" width="1" height="1"/><rect x="805" y="609" width="4" height="2"/><rect x="800" y="643" width="2" height="2"/><rect x="799" y="587" width="4" height="2"/><rect x="801" y="592" width="3" height="1"/><rect x="800" y="627" width="2" height="1"/><rect x="799" y="610" width="1" height="2"/><rect x="794" y="605" width="1" height="2"/><rect x="796" y="614" width="1" height="1"/><rect x="795" y="586" width="1" height="1"/><rect x="799" y="642" width="1" height="2"/><rect x="795" y="609" width="2" height="2"/><rect x="797" y="585" width="2" height="1"/><rect x="804" y="641" width="2" height="1"/><rect x="803" y="577" width="1" height="2"/><rect x="801" y="574" width="4" height="1"/><rect x="794" y="600" width="1" height="1"/><rect x="801" y="622" width="4" height="1"/><rect x="805" y="613" width="1" height="1"/><rect x="795" y="589" width="2" height="3"/><rect x="801" y="580" width="2" height="1"/><rect x="805" y="630" width="4" height="2"/><rect x="793" y="598" width="3" height="3"/><rect x="804" y="622" width="2" height="2"/><rect x="796" y="636" width="1" height="2"/><rect x="795" y="594" width="1" height="2"/><rect x="797" y="638" width="1" height="2"/><rect x="803" y="648" width="1" height="2"/><rect x="796" y="640" width="1" height="1"/><rect x="791" y="599" width="4" height="1"/><rect x="800" y="582" width="4" height="2"/><rect x="803" y="589" width="4" height="3"/><rect x="805" y="642" width="3" height="1"/><rect x="806" y="643" width="3" height="1"/><rect x="804" y="649" width="3" height="1"/><rect x="792" y="602" width="3" height="2"/><rect x="805" y="641" width="3" height="1"/><rect x="799" y="602" width="2" height="2"/><rect x="798" y="642" width="2" height="1"/><rect x="802" y="618" width="4" height="1"/><rect x="796" y="636" width="1" height="2"/><rect x="799" y="648" width="1" height="2"/><rect x="802" y="577" width="3" height="1"/><rect x="801" y="583" width="2" height="3"/><rect x="803" y="622" width="4" height="2"/><rect x="796" y="581" width="4" height="2"/><rect x="804" y="636" width="3" height="1"/><rect x="803" y="651" width="2" height="1"/><rect x="796" y="637" width="1" height="2"/><rect x="794" y="627" width="4" height="1"/><rect x="803" y="615" width="2" height="1"/><rect x="799" y="591" width="1" height="2"/><rect x="800" y="632" width="4" height="3"/><rect x="794" y="586" width="4" height="2"/><rect x="795" y="626" width="4" height="2"/><rect x="806" y="608" width="3" height="1"/><rect x="798" y="612" width="3" height="1"/><rect x="799" y="607" width="4" height="3"/><rect x="803" y="595" width="2" height="1"/><rect x="806" y="625" width="2" height="2"/><rect x="805" y="613" width="3" height="1"/><rect x="800" y="588" width="2" height="1"/><rect x="802" y="652" width="3" height="2"/><rect x="803" y="652" width="2" height="1"/><rect x="800" y="633" width="1" height="1"/><rect x="795" y="626" width="2" height="2"/><rect x="805" y="609" width="4" height="1"/><rect x="805" y="647" width="1" height="2"/><rect x="806" y="582" width="1" height="1"/><rect x="801" y="614" width="1" height="1"/></g><polyline points="249.3,678.4 253.3,686.4 254.1,694.5 251.7,702.5" fill="none" stroke="#000" stroke-width="1.5"/><polyline points="248.5,707.3 244.5,712.9" fill="none" stroke="#000" stroke-width="1.5"/><polyline points="240.5,716.9 235.7,723.3" fill="none" stroke="#000" stroke-width="1.5"/><polyline points="229.3,728.1 223.7,731.3" fill="none" stroke="#000" stroke-width="1.5"/><polyline points="227.7,664.0 235.7,662.4" fill="none" stroke="#000" stroke-width="1.5"/><polyline points="242.1,664.8 250.1,661.6" fill="none" stroke="#000" stroke-width="1.5"/><polyline points="258.1,660.8 270.9,662.4 285.3,664.8" fill="none" stroke="#000" stroke-width="1.5"/><polyline points="242.1,700.9 248.5,692.9" fill="none" stroke="#000" stroke-width="1.5"/><polyline points="270.9,656.0 271.9,657.0" fill="none" stroke="#000" stroke-width="1.5"/><polyline points="314.0,664.0 326.0,663.9 336.5,660.5" fill="none" stroke="#000" stroke-width="1.5"/><polyline points="336.0,661.0 346.0,658.5" fill="none" stroke="#000" stroke-width="1.5"/>
<polygon points="299.6,60.2 307.0,55.3 314.4,59.0 316.8,70.0 323.0,72.5 320.5,79.9 325.5,92.2 323.0,95.9 315.6,82.4 311.9,67.6 304.5,62.7" fill="#2b4a6e" stroke="none" stroke-width="1" />
<polygon points="368.6,260.2 376.0,258.2 388.3,266.3 395.7,272.5 395.7,276.9 383.3,268.8 373.5,263.9" fill="#2b4a6e" stroke="none" stroke-width="1" />
<polygon points="439.3,376.0 450.3,363.6 451.6,367.3 444.2,377.2" fill="#2b4a6e" stroke="none" stroke-width="1" />
<polygon points="424.5,413.4 426.9,417.1 426.9,423.2 430.6,428.2 431.9,433.1 429.4,434.3 425.7,425.7 424.5,418.3" fill="#2b4a6e" stroke="none" stroke-width="1" />
<polygon points="605.2,312.7 609.1,306.2 612.9,301.0 611.6,293.3 614.2,286.8 616.0,290.7 618.6,285.5 620.7,290.7 624.6,288.1 627.2,293.3 623.3,298.4 619.4,299.7 616.8,306.2 612.9,310.1 609.1,312.7" fill="#2b4a6e" stroke="none" stroke-width="1" />
<polygon points="526.7,502.1 529.2,507.0 532.8,503.3 530.4,516.8 531.6,526.7 536.5,525.5 532.8,531.6 532.8,539.0 529.2,535.3 525.5,530.4 527.9,527.9 525.5,516.8 527.9,510.7" fill="#2b4a6e" stroke="none" stroke-width="1" />
<polygon points="541.5,606.0 548.9,607.2 556.2,606.0 563.6,609.7 563.6,612.2 556.2,612.2 548.9,618.3 541.5,617.1" fill="#2b4a6e" stroke="none" stroke-width="1" />
<polygon points="121.8,659.0 126.7,652.8 132.8,652.8 136.5,657.7 134.1,665.1 127.9,667.6 123.0,665.1" fill="#2b4a6e" stroke="none" stroke-width="1" />
<polygon points="42.5,681.1 46.6,679.9 51.6,687.3 49.1,689.7 44.2,686.0" fill="#2b4a6e" stroke="none" stroke-width="1" />
<polygon points="57.7,691.0 60.2,684.8 63.9,694.7 66.3,700.8 77.4,703.3 83.6,705.8 83.6,709.4 77.4,708.2 66.3,707.0 61.4,700.8 57.2,694.7" fill="#2b4a6e" stroke="none" stroke-width="1" />
<polygon points="140.4,708.9 145.2,705.7 147.6,700.9 145.2,696.9 149.2,695.3 153.2,699.3 154.8,704.1 150.8,708.9 146.0,713.7 142.0,713.7" fill="#2b4a6e" stroke="none" stroke-width="1" />
<polygon points="784.6,731.6 789.5,736.5 795.7,743.9 794.4,751.3 789.5,755.0 785.8,746.4 783.3,736.5" fill="#2b4a6e" stroke="none" stroke-width="1" />
<polygon points="773.5,789.5 778.4,787.0 780.0,792.0 773.5,793.0" fill="#2b4a6e" stroke="none" stroke-width="1" />
<polyline points="783.3,647.9 787.0,655.3 784.6,667.6 780.9,675.0 789.5,684.8 790.7,697.1 794.4,704.5 789.5,711.9 788.3,721.8 784.6,728.0" fill="none" stroke="#000" stroke-width="4" />
<polyline points="783.3,647.9 787.0,655.3 784.6,667.6 780.9,675.0 789.5,684.8 790.7,697.1 794.4,704.5 789.5,711.9 788.3,721.8 784.6,728.0" fill="none" stroke="#04466b" stroke-width="2" />
<polyline points="183.3,6.0 193.2,18.3 198.1,30.6 196.9,55.3 188.3,104.5 176.0,148.9 163.6,178.4 143.9,206.0" fill="none" stroke="#7f6d18" stroke-width="1" />
<polyline points="240.5,6.0 230.6,18.3 228.2,35.6 220.8,55.3 206.0,75.0" fill="none" stroke="#7f6d18" stroke-width="1" />
<polyline points="240.5,6.0 255.3,25.7 262.7,42.9 267.6,55.3 287.3,60.2 304.5,52.8 316.8,59.0 339.0,73.7 363.6,89.7 378.4,109.4 393.2,121.8 406.0,129.2" fill="none" stroke="#7f6d18" stroke-width="1" />
<polyline points="406.0,99.6 388.3,104.5 376.0,116.8 368.6,139.0 376.0,156.2 393.2,163.6 406.0,163.6" fill="none" stroke="#7f6d18" stroke-width="1" />
<polyline points="206.0,200.6 230.6,185.8 267.6,171.0 304.5,163.6 334.1,158.7 366.1,148.9 406.0,139.0" fill="none" stroke="#7f6d18" stroke-width="1" />
<polyline points="472.5,6.0 470.0,30.6 455.3,52.8 433.1,62.7 423.2,89.7 410.9,109.4 406.0,116.8" fill="none" stroke="#7f6d18" stroke-width="1" />
<polyline points="406.0,102.1 433.1,111.9 438.0,129.2 428.2,158.7 406.0,166.1" fill="none" stroke="#7f6d18" stroke-width="1" />
<polyline points="406.0,134.1 442.9,131.6 479.9,139.0 516.8,136.5 534.1,148.9 553.8,158.7 583.3,161.2 606.0,158.7" fill="none" stroke="#7f6d18" stroke-width="1" />
<polyline points="588.3,6.0 588.3,25.7 600.6,42.9 606.0,70.0" fill="none" stroke="#7f6d18" stroke-width="1" />
<polyline points="606.0,97.1 593.2,109.4 600.6,129.2 606.0,134.1" fill="none" stroke="#7f6d18" stroke-width="1" />
<polyline points="428.2,158.7 445.4,188.3 465.1,206.0" fill="none" stroke="#7f6d18" stroke-width="1" />
<polyline points="593.2,161.2 576.0,183.3 563.6,206.0" fill="none" stroke="#7f6d18" stroke-width="1" />
<polyline points="606.0,156.2 620.8,147.6 638.0,150.1 657.7,143.9 672.5,131.6 704.5,119.3 741.5,97.1 778.4,79.9 806.0,71.3" fill="none" stroke="#7f6d18" stroke-width="1" />
<polyline points="657.7,143.9 670.0,153.8 675.0,166.1 684.8,178.4 697.1,189.5 716.8,188.3 743.9,183.3 778.4,176.0 806.0,173.5" fill="none" stroke="#7f6d18" stroke-width="1" />
<polyline points="716.8,188.3 721.8,198.1 729.2,206.0" fill="none" stroke="#7f6d18" stroke-width="1" />
<polyline points="606.0,134.1 613.4,148.9 606.0,156.2" fill="none" stroke="#7f6d18" stroke-width="1" />
<polyline points="6.0,257.7 38.0,255.3 67.6,247.9 104.5,235.6 134.1,226.9 161.2,224.5" fill="none" stroke="#7f6d18" stroke-width="1" />
<polyline points="161.2,222.0 176.0,222.0 176.0,230.6 161.2,230.6 161.2,222.0" fill="none" stroke="#7f6d18" stroke-width="1" />
<polyline points="176.0,225.7 206.0,210.9" fill="none" stroke="#7f6d18" stroke-width="1" />
<polyline points="163.6,230.6 168.6,255.3 171.0,279.9 171.0,304.5 176.0,329.2 180.9,353.8 183.3,378.4 178.4,406.0" fill="none" stroke="#7f6d18" stroke-width="1" />
<polyline points="145.2,206.0 151.3,220.8 161.2,224.5" fill="none" stroke="#7f6d18" stroke-width="1" />
<polyline points="396.9,206.0 398.1,230.6 393.2,255.3 395.7,279.9 398.1,304.5 400.6,329.2 401.8,356.2" fill="none" stroke="#7f6d18" stroke-width="1" />
<polyline points="340.2,406.0 356.0,401.6" fill="none" stroke="#7f6d18" stroke-width="1" />
<polyline points="401.6,356.0 403.4,368.3 405.3,380.6 403.4,392.9 407.7,405.3 410.2,415.1 418.8,428.7 423.1,441.0 428.7,456.0" fill="none" stroke="#7f6d18" stroke-width="1" />
<polyline points="356.0,401.6 368.3,398.5 380.6,391.7 392.9,374.5 399.1,369.5 405.3,367.7" fill="none" stroke="#7f6d18" stroke-width="1" />
<polyline points="388.0,386.2 396.6,385.6 405.3,381.2 410.2,374.5 415.1,362.2 423.1,356.0" fill="none" stroke="#7f6d18" stroke-width="1" />
<polyline points="405.3,367.7 411.4,367.7 425.0,365.9 442.2,362.2 456.0,363.4" fill="none" stroke="#7f6d18" stroke-width="1" />
<polyline points="414.9,359.2 430.6,346.4 455.3,329.2 467.6,309.4 487.3,279.9 497.1,255.3 504.5,239.3 521.8,235.6 539.0,223.2 556.2,206.0" fill="none" stroke="#7f6d18" stroke-width="1" />
<polyline points="418.3,363.6 438.0,362.4 479.9,363.6 511.9,356.2 546.4,351.3 578.4,347.6" fill="none" stroke="#7f6d18" stroke-width="1" />
<polyline points="521.8,238.0 534.1,250.3 539.0,270.0 543.9,292.2 553.8,304.5 558.7,316.8 573.5,329.2 580.9,343.9" fill="none" stroke="#7f6d18" stroke-width="1" />
<polyline points="585.8,343.9 598.1,334.1 606.0,329.2" fill="none" stroke="#7f6d18" stroke-width="1" />
<polyline points="583.3,293.4 576.0,307.0 571.0,324.2 578.4,339.0" fill="none" stroke="#7f6d18" stroke-width="1" />
<polyline points="580.9,358.7 566.1,373.5 553.8,388.3 546.4,406.0" fill="none" stroke="#7f6d18" stroke-width="1" />
<polyline points="588.3,358.7 598.1,373.5 606.0,383.3" fill="none" stroke="#7f6d18" stroke-width="1" />
<polyline points="606.0,383.0 609.0,395.0 612.0,406.0" fill="none" stroke="#7f6d18" stroke-width="1" />
<polyline points="465.1,206.0 479.9,220.8 484.8,230.6 502.1,238.0" fill="none" stroke="#7f6d18" stroke-width="1" />
<polyline points="592.6,351.3 591.5,355.3 588.6,358.2 584.6,359.3 580.6,358.2 577.7,355.3 576.6,351.3 577.7,347.3 580.6,344.4 584.6,343.3 588.6,344.4 591.5,347.3 592.6,351.3" fill="none" stroke="#7f6d18" stroke-width="1" />
<polyline points="576.0,351.3 593.2,351.3" fill="none" stroke="#7f6d18" stroke-width="1" />
<polyline points="584.6,341.5 584.6,361.2" fill="none" stroke="#7f6d18" stroke-width="1" />
<polyline points="606.0,326.7 630.6,314.4 667.6,292.2 704.5,275.0 724.2,262.7 741.5,247.9 761.2,240.5 783.3,230.6 806.0,220.8" fill="none" stroke="#7f6d18" stroke-width="1" />
<polyline points="739.0,215.9 753.8,225.7 761.2,240.5 766.1,267.6 768.6,279.9 788.3,294.7 806.0,307.0" fill="none" stroke="#7f6d18" stroke-width="1" />
<polyline points="606.0,353.8 630.6,361.2 667.6,368.6 704.5,371.0 729.2,373.5 753.8,373.5 778.4,363.6 793.2,351.3 806.0,343.9" fill="none" stroke="#7f6d18" stroke-width="1" />
<polyline points="739.0,260.2 753.8,275.0 768.6,279.9" fill="none" stroke="#7f6d18" stroke-width="1" />
<polyline points="6.0,461.4 42.9,463.9 79.9,472.5 97.1,476.2 121.8,472.5 143.9,477.4 153.8,479.9 178.4,478.7 206.0,476.2" fill="none" stroke="#7f6d18" stroke-width="1" />
<polyline points="176.0,406.0 163.6,430.6 161.2,455.3 153.8,477.4 141.5,494.7 134.1,516.8 130.4,553.8 127.9,578.4 126.7,606.0" fill="none" stroke="#7f6d18" stroke-width="1" />
<polyline points="206.0,476.2 255.3,473.7 279.9,467.6 292.2,455.3 309.4,435.6 329.2,418.3 340.2,406.0" fill="none" stroke="#7f6d18" stroke-width="1" />
<polyline points="257.7,475.0 247.9,499.6 238.0,516.8 230.6,534.1 217.1,551.3 214.6,573.5 209.7,593.2 206.0,603.0" fill="none" stroke="#7f6d18" stroke-width="1" />
<polyline points="406.0,534.1 393.2,551.3 373.5,568.6 348.9,585.8 329.2,598.1 311.9,606.0" fill="none" stroke="#7f6d18" stroke-width="1" />
<polyline points="543.9,406.0 534.1,418.3 524.2,430.6 511.9,447.9 492.2,460.2 462.7,471.3 439.3,472.5" fill="none" stroke="#7f6d18" stroke-width="1" />
<polyline points="423.7,454.3 439.3,472.5 433.1,484.8 423.2,507.0 406.0,534.1" fill="none" stroke="#7f6d18" stroke-width="1" />
<polyline points="612.2,406.0 625.7,420.8 631.9,438.0 629.4,467.6 629.4,499.6 635.6,524.2 646.6,546.4 650.3,566.1 655.3,590.7 660.2,606.0" fill="none" stroke="#7f6d18" stroke-width="1" />
<polyline points="625.7,420.8 645.4,438.0 679.9,457.7 709.4,465.1 734.1,467.6 763.6,472.5 798.1,486.0 806.0,494.7" fill="none" stroke="#7f6d18" stroke-width="1" />
<polyline points="806.0,534.1 800.6,558.7 788.3,583.3 783.3,606.0" fill="none" stroke="#7f6d18" stroke-width="1" />
<polyline points="606.0,406.0 612.2,406.0" fill="none" stroke="#7f6d18" stroke-width="1" />
<polyline points="6.0,615.9 12.2,630.6 13.4,655.3 10.9,675.0" fill="none" stroke="#7f6d18" stroke-width="1" />
<polyline points="6.0,657.7 30.6,652.8 62.7,644.2 92.2,642.9 124.2,640.5 153.8,641.7 178.4,652.8 193.2,655.3 206.0,654.0" fill="none" stroke="#7f6d18" stroke-width="1" />
<polyline points="126.7,606.0 126.7,630.6 129.2,645.4 134.1,655.3 131.6,672.5" fill="none" stroke="#7f6d18" stroke-width="1" />
<polyline points="89.7,645.4 94.7,660.2 109.4,670.0 131.6,672.5 146.4,679.9 158.7,684.8 173.5,675.0 183.3,657.7 188.3,642.9 195.7,625.7 203.0,606.0" fill="none" stroke="#7f6d18" stroke-width="1" />
<polyline points="206.0,651.6 230.6,645.4 255.3,642.9 279.9,641.7 304.5,630.6 314.4,623.2 334.1,625.7 353.8,630.6 373.5,638.0 383.3,635.6 406.0,623.2" fill="none" stroke="#7f6d18" stroke-width="1" />
<polyline points="307.0,606.0 304.5,630.6" fill="none" stroke="#7f6d18" stroke-width="1" />
<polyline points="406.0,620.8 442.9,617.1 479.9,615.9 516.8,617.1 541.5,625.7 566.1,634.3 583.3,639.3 606.0,638.0" fill="none" stroke="#7f6d18" stroke-width="1" />
<polyline points="660.2,606.0 670.0,625.7 689.7,642.9 709.4,665.1 719.3,689.7 729.2,711.9 741.5,734.1 748.9,753.8 753.8,778.4 755.0,792.0" fill="none" stroke="#7f6d18" stroke-width="1" />
<polyline points="606.0,640.5 630.6,642.9 667.6,651.6 704.5,661.4 741.5,661.4 763.6,656.5 783.3,654.0" fill="none" stroke="#7f6d18" stroke-width="1" />
<polyline points="785.8,606.0 788.3,630.6 783.3,645.4 780.9,660.2 790.7,667.6 800.6,679.9 806.0,694.7" fill="none" stroke="#7f6d18" stroke-width="1" />
<polyline points="6.0,105.3 155.0,105.3 156.7,110.7 160.7,114.4 160.0,121.8 151.3,131.6 143.9,140.2 137.8,148.9 187.0,148.9" fill="none" stroke="#000" stroke-width="1" />
<path d="M201.2 6.0C201.4 7.5 200.3 8.0 201.8 11.4C203.3 14.8 204.7 14.0 206.6 18.2C208.5 22.4 209.7 22.5 208.6 26.3C207.5 30.1 204.4 29.2 202.5 31.7C200.6 34.2 200.8 33.4 201.8 35.1C202.8 36.8 204.4 34.9 205.9 37.8C207.4 40.7 205.6 41.1 207.3 45.3C209.0 49.5 210.3 49.5 212.0 52.7C213.7 55.9 211.7 55.3 213.4 56.8C215.1 58.3 215.9 58.8 218.0 58.0C220.1 57.2 218.9 54.5 221.0 54.0C223.1 53.5 224.3 55.5 225.6 56.1" fill="none" stroke="#000" stroke-width="1"/>
<path d="M305.5 6.0C306.6 7.5 308.6 8.2 309.6 11.4C310.6 14.6 311.6 15.2 308.9 17.5C306.2 19.8 305.6 18.5 300.1 19.6C294.6 20.7 294.1 20.7 289.2 21.6C284.3 22.5 285.5 20.8 282.5 22.9C279.5 25.0 279.9 25.8 278.4 29.0C276.9 32.2 276.0 31.1 277.0 34.5C278.0 37.9 280.1 37.4 281.8 41.2C283.5 45.0 283.7 44.6 283.1 48.0C282.5 51.4 282.3 51.7 279.8 53.4C277.3 55.1 277.7 55.2 274.3 54.1C270.9 53.0 271.8 51.7 267.6 49.4C263.4 47.1 263.6 48.1 259.4 46.0C255.2 43.9 256.5 43.8 252.7 41.9C248.9 40.0 249.3 40.0 245.9 39.2C242.5 38.4 243.6 38.2 240.5 39.2C237.4 40.2 238.4 39.4 235.0 42.6C231.6 45.8 230.9 46.9 228.3 50.7C225.7 54.5 226.2 53.4 225.6 56.1C225.0 58.8 226.0 59.1 226.2 60.2" fill="none" stroke="#000" stroke-width="1"/>
<path d="M226.2 60.2C227.3 61.0 228.8 61.2 230.3 62.9C231.8 64.6 232.7 63.6 231.7 66.3C230.7 69.0 227.3 69.2 226.9 72.4C226.5 75.6 229.2 75.3 230.3 77.8C231.4 80.3 232.1 79.3 231.0 81.2C229.9 83.1 227.0 82.1 226.2 84.6C225.4 87.1 228.9 86.8 228.3 90.0C227.7 93.2 225.3 93.0 224.2 96.1C223.1 99.2 225.0 98.8 224.2 100.9C223.4 103.0 223.8 102.6 221.5 103.6C219.2 104.6 217.9 107.7 216.0 104.6C214.1 101.5 215.8 96.0 214.7 92.7C213.6 89.4 213.1 91.2 212.0 92.7C210.9 94.2 212.6 96.6 210.7 98.1C208.8 99.6 208.6 98.1 205.2 98.1C201.8 98.1 200.6 97.0 198.5 98.1C196.4 99.2 196.9 100.3 197.8 102.2C198.7 104.1 199.9 105.3 201.8 104.9C203.7 104.5 203.5 100.5 204.6 100.9C205.7 101.3 206.9 104.4 205.9 106.3C204.9 108.2 202.7 105.3 201.2 107.6C199.7 109.9 202.8 110.4 200.6 114.4C198.4 118.4 194.2 118.4 193.2 121.8C192.2 125.2 196.9 123.3 196.9 126.7C196.9 130.1 195.6 129.3 193.2 134.1C190.8 138.9 190.0 139.8 188.3 143.9C186.6 148.0 186.3 146.1 187.0 148.9C187.7 151.7 191.7 151.1 190.7 153.8C189.7 156.5 184.0 156.0 183.3 158.7C182.6 161.4 189.7 160.2 188.3 163.6C186.9 167.0 181.9 166.9 178.4 171.0C174.9 175.1 178.0 177.0 175.9 178.4C173.8 179.8 173.0 175.3 171.0 176.0C169.0 176.7 167.2 178.9 168.6 180.9C170.0 182.9 177.3 179.2 175.9 183.3C174.5 187.4 169.1 190.9 163.6 195.7C158.1 200.5 158.9 197.7 156.2 200.6C153.5 203.5 153.4 204.5 153.8 206.0C154.2 207.5 157.5 203.9 157.5 206.0C157.5 208.1 153.1 209.6 153.8 213.4C154.5 217.2 158.3 215.7 160.0 219.5C161.7 223.3 162.4 224.1 160.0 226.9C157.6 229.7 155.8 226.6 151.3 229.4C146.8 232.2 144.9 233.0 143.9 236.8C142.9 240.6 147.9 239.2 147.6 243.0C147.3 246.8 146.5 247.6 142.7 250.3C138.9 253.0 137.5 253.5 134.1 252.8C130.7 252.1 131.1 247.2 130.4 247.9C129.7 248.6 133.0 252.2 131.6 255.3C130.2 258.4 126.2 256.3 125.5 259.0C124.8 261.7 129.6 262.4 129.2 265.1C128.8 267.8 125.9 264.7 124.2 268.8C122.5 272.9 123.7 273.7 123.0 279.9C122.3 286.1 124.2 286.9 121.8 291.0C119.4 295.1 117.2 292.6 114.4 294.7C111.6 296.8 114.7 296.3 111.9 298.4C109.1 300.5 106.9 299.0 104.5 302.1C102.1 305.2 105.4 308.0 103.3 309.4C101.2 310.8 99.2 305.6 97.1 307.0C95.0 308.4 94.9 310.3 95.9 314.4C96.9 318.5 101.8 318.4 100.8 321.8C99.8 325.2 96.3 324.6 92.2 326.7C88.1 328.8 86.7 326.5 86.0 329.2C85.3 331.9 89.3 332.4 89.7 336.5C90.1 340.6 86.9 340.8 87.3 343.9C87.7 347.0 92.4 346.2 91.0 347.6C89.6 349.0 85.5 347.2 82.4 348.9C79.3 350.6 82.0 352.1 79.9 353.8C77.8 355.5 75.7 352.3 75.0 355.0C74.3 357.7 77.8 359.8 77.4 363.6C77.0 367.4 74.0 365.1 73.7 368.6C73.4 372.1 73.1 373.6 76.2 376.0C79.3 378.4 82.1 375.2 84.8 377.2C87.5 379.2 87.0 379.9 86.0 383.3C85.0 386.7 81.1 386.4 81.1 389.5C81.1 392.6 85.3 391.3 86.0 394.4C86.7 397.5 86.0 397.4 83.6 400.6C81.2 403.8 77.7 402.8 77.4 406.0C77.1 409.2 82.7 408.1 82.4 412.2C82.1 416.3 75.5 417.4 76.2 420.8C76.9 424.2 83.8 421.1 84.8 424.5C85.8 427.9 80.6 427.2 79.9 433.1C79.2 439.0 79.3 440.9 82.4 445.4C85.5 449.9 90.3 446.3 91.0 449.1C91.7 451.9 85.5 451.5 84.8 455.3C84.1 459.1 85.7 459.3 88.5 462.7C91.3 466.1 91.3 464.9 94.7 467.6C98.1 470.3 100.8 469.1 100.8 472.5C100.8 475.9 98.5 477.8 94.7 479.9C90.9 482.0 88.3 477.8 87.3 479.9C86.3 482.0 93.1 484.2 91.0 487.3C88.9 490.4 83.0 487.9 79.9 491.0C76.8 494.1 77.8 495.3 79.9 498.4C82.0 501.5 87.3 499.0 87.3 502.1C87.3 505.2 84.0 504.6 79.9 509.4C75.8 514.2 75.9 515.5 72.5 519.3C69.1 523.1 67.9 520.9 67.6 523.0C67.3 525.1 72.7 525.0 71.3 526.7C69.9 528.4 65.5 525.8 62.7 529.2C59.9 532.6 63.8 535.6 61.4 539.0C59.0 542.4 55.0 538.7 54.0 541.5C53.0 544.3 59.1 544.8 57.7 548.9C56.3 553.0 50.8 552.1 49.1 556.2C47.4 560.3 50.6 559.8 51.6 563.6C52.6 567.4 54.9 567.7 52.8 569.8C50.7 571.9 45.9 568.6 44.2 571.0C42.5 573.4 46.6 574.3 46.6 578.4C46.6 582.5 43.5 582.4 44.2 585.8C44.9 589.2 49.1 588.3 49.1 590.7C49.1 593.1 45.6 593.4 44.2 594.4L185.8 594.4C186.1 595.4 187.7 594.8 187.0 598.0C186.3 601.2 185.7 600.3 183.3 606.0C180.9 611.7 179.1 611.4 178.4 618.3C177.7 625.2 178.1 623.7 180.9 630.6C183.7 637.5 185.9 636.0 188.3 642.9C190.7 649.8 187.4 649.1 189.5 655.3C191.6 661.5 193.0 661.5 195.7 665.1C198.4 668.7 198.1 667.2 199.0 668.0" fill="none" stroke="#000" stroke-width="1"/>
<circle cx="228.3" cy="78.7" r="2.2" fill="none" stroke="#000" stroke-width="1.1"/><circle cx="226.6" cy="97.0" r="2.6" fill="none" stroke="#000" stroke-width="1.1"/><circle cx="216.8" cy="92.0" r="2.2" fill="none" stroke="#000" stroke-width="1.1"/><circle cx="199.6" cy="100.0" r="2.2" fill="none" stroke="#000" stroke-width="1.1"/><circle cx="204.3" cy="105.5" r="1.8" fill="none" stroke="#000" stroke-width="1.1"/><circle cx="198.7" cy="126.7" r="1.8" fill="none" stroke="#000" stroke-width="1.1"/><circle cx="188.3" cy="152.9" r="2.6" fill="none" stroke="#000" stroke-width="1.1"/><circle cx="176.9" cy="179.9" r="1.8" fill="none" stroke="#000" stroke-width="1.1"/><circle cx="151.6" cy="213.8" r="2.2" fill="none" stroke="#000" stroke-width="1.1"/><circle cx="146.4" cy="237.5" r="2.6" fill="none" stroke="#000" stroke-width="1.1"/><circle cx="128.8" cy="246.3" r="2.2" fill="none" stroke="#000" stroke-width="1.1"/><circle cx="126.6" cy="269.8" r="2.6" fill="none" stroke="#000" stroke-width="1.1"/><circle cx="110.8" cy="297.0" r="1.8" fill="none" stroke="#000" stroke-width="1.1"/><circle cx="98.0" cy="313.9" r="2.2" fill="none" stroke="#000" stroke-width="1.1"/><circle cx="87.1" cy="336.7" r="2.6" fill="none" stroke="#000" stroke-width="1.1"/><circle cx="81.6" cy="355.8" r="2.6" fill="none" stroke="#000" stroke-width="1.1"/><circle cx="74.6" cy="378.1" r="2.6" fill="none" stroke="#000" stroke-width="1.1"/><circle cx="87.8" cy="394.0" r="1.8" fill="none" stroke="#000" stroke-width="1.1"/><circle cx="73.6" cy="421.3" r="2.6" fill="none" stroke="#000" stroke-width="1.1"/><circle cx="93.1" cy="448.6" r="2.2" fill="none" stroke="#000" stroke-width="1.1"/><circle cx="99.0" cy="472.5" r="1.8" fill="none" stroke="#000" stroke-width="1.1"/><circle cx="81.7" cy="492.8" r="2.6" fill="none" stroke="#000" stroke-width="1.1"/><circle cx="70.9" cy="517.8" r="2.2" fill="none" stroke="#000" stroke-width="1.1"/><circle cx="63.5" cy="540.5" r="2.6" fill="none" stroke="#000" stroke-width="1.1"/><circle cx="49.5" cy="564.2" r="2.2" fill="none" stroke="#000" stroke-width="1.1"/><circle cx="46.0" cy="585.4" r="1.8" fill="none" stroke="#000" stroke-width="1.1"/>
<polyline points="6.0,415.4 79.9,415.4" fill="none" stroke="#000" stroke-width="1" />
<polyline points="204.0,104.6 311.5,105.0 309.8,89.0 325.0,91.0 406.0,90.5 606.0,96.4 806.0,98.4" fill="none" stroke="#000" stroke-width="1" />
<polyline points="142.7,238.0 299.6,237.8 336.5,237.5 406.0,238.8 492.2,239.3 606.0,239.3 665.1,238.0 677.4,236.8 692.2,231.9 707.0,229.4 714.4,224.5 724.2,222.0 743.9,220.8 773.5,221.3 806.0,222.7" fill="none" stroke="#000" stroke-width="1" />
<polyline points="299.6,238.0 303.3,244.2 307.0,246.6 290.5,406.0 284.8,462.7 279.4,511.9 281.1,553.8 283.6,606.0 284.8,648.0" fill="none" stroke="#000" stroke-width="1" />
<polyline points="492.2,239.3 520.5,406.0 526.7,433.1 534.1,452.8 540.2,467.6 537.7,476.2 545.2,479.9 543.9,484.8 534.1,491.0 532.8,504.5 532.8,539.0 533.8,553.8 529.2,573.5 534.1,585.8 539.0,598.1 541.5,606.0 547.6,620.3" fill="none" stroke="#000" stroke-width="1" />
<polyline points="536.5,594.4 345.2,594.4 342.7,600.6 341.5,606.0 353.8,618.3 358.7,630.6 356.2,638.0 358.0,646.0" fill="none" stroke="#000" stroke-width="1" />
<polyline points="547.6,620.3 606.0,622.7 743.9,631.9 746.4,642.9 748.9,650.3 757.5,650.3 758.7,638.0 756.2,623.2 759.9,612.2 766.1,609.7 778.4,614.6 785.8,618.3 793.2,620.8" fill="none" stroke="#000" stroke-width="1" />
<polyline points="635.6,95.9 642.9,91.0 655.3,86.0 675.0,82.4 679.9,77.4 689.7,71.3 695.9,68.8 697.1,61.4 707.0,55.3 708.2,49.1 734.1,35.6 748.9,24.5 763.6,13.4 758.7,10.9 748.9,6.0" fill="none" stroke="#000" stroke-width="1" />
<polyline points="763.6,13.4 766.1,23.2 775.9,30.6 783.3,40.5 795.7,40.5 806.0,34.3" fill="none" stroke="#000" stroke-width="1" />
<polyline points="787.0,97.8 783.3,99.6 782.1,109.4 780.9,118.1 773.5,119.3 768.6,124.2 763.6,134.1 756.2,139.0 743.9,136.5 731.6,141.5 726.7,147.6 719.3,152.6 714.4,145.2 707.0,146.4 700.8,151.3 694.7,155.0 692.2,163.6 684.8,168.6 675.0,173.5 662.7,178.4 650.3,187.0 635.6,188.3 620.8,190.7 610.9,198.1 608.0,203.0 610.9,208.5 606.0,212.2 595.7,214.6 590.2,217.1 588.3,238.8" fill="none" stroke="#000" stroke-width="1" />
<polyline points="677.4,237.0 676.2,244.2 665.1,251.6 660.2,263.9 670.0,272.5 684.8,283.6 694.7,284.3 700.8,297.1 707.0,311.9 716.8,326.7 729.2,339.0 741.5,350.1 748.9,359.9 758.7,366.1 766.1,376.0 766.1,385.8 776.0,395.7 780.9,406.0 789.0,410.9 795.0,420.8 801.0,430.6 803.3,443.0 806.0,455.3" fill="none" stroke="#000" stroke-width="1" />
</g>
<g clip-path="url(#mc)">
<circle cx="407" cy="407" r="159.5" fill="none" stroke="#dedbd6" stroke-width="0.8" shape-rendering="crispEdges"/>
<circle cx="407" cy="407" r="279.5" fill="none" stroke="#dedbd6" stroke-width="0.8" shape-rendering="crispEdges"/>
<circle cx="407" cy="407" r="399.5" fill="none" stroke="#dedbd6" stroke-width="0.8" shape-rendering="crispEdges"/>
<circle cx="407" cy="407" r="519.5" fill="none" stroke="#dedbd6" stroke-width="0.8" shape-rendering="crispEdges"/>
<circle cx="407" cy="407" r="39.6" fill="none" stroke="#e60000" stroke-width="1.2" shape-rendering="crispEdges"/>
<rect x="392.0" y="3.5" width="28" height="8" fill="#5e4f4b"/>
<text x="396.0" y="11.5" font-size="10.5" font-weight="bold" fill="#ffffa8" textLength="20" lengthAdjust="spacingAndGlyphs">313</text>
<rect x="392.0" y="123.5" width="28" height="8" fill="#5e4f4b"/>
<text x="396.0" y="131.5" font-size="10.5" font-weight="bold" fill="#ffffa8" textLength="20" lengthAdjust="spacingAndGlyphs">219</text>
<rect x="392.0" y="243.5" width="28" height="8" fill="#5e4f4b"/>
<text x="396.0" y="251.5" font-size="10.5" font-weight="bold" fill="#ffffa8" textLength="20" lengthAdjust="spacingAndGlyphs">125</text>
<rect x="395.5" y="363.8" width="21" height="8" fill="#5e4f4b"/>
<text x="399.5" y="371.8" font-size="10.5" font-weight="bold" fill="#ffffa8" textLength="13" lengthAdjust="spacingAndGlyphs">31</text>
<g shape-rendering="crispEdges">
<path d="M111 145.4L155 101.4" stroke="#d8d8d8" stroke-width="0.8" fill="none"/>
<path d="M666.9 170.3L711.7 214.8" stroke="#d8d8d8" stroke-width="0.8" fill="none"/>
<path d="M168.0 68.9L171.1 66.2" stroke="#00e000" stroke-width="1.1" fill="none"/><path d="M162.2 75.1L164.9 72.0" stroke="#00e000" stroke-width="1.1" fill="none"/><path d="M156.3 80.9L158.5 78.2" stroke="#00e000" stroke-width="1.1" fill="none"/><path d="M152.8 84.0L150.2 86.5L152.9 89.0" stroke="#00e000" stroke-width="1.1" fill="none"/><path d="M155.9 92.0L158.2 93.9" stroke="#00e000" stroke-width="1.1" fill="none"/><path d="M162.2 98.2L164.6 100.6" stroke="#00e000" stroke-width="1.1" fill="none"/><path d="M168.3 104.0L170.8 106.8" stroke="#00e000" stroke-width="1.1" fill="none"/><path d="M173.9 70.2L176.9 72.9" stroke="#00e000" stroke-width="1.1" fill="none"/><path d="M180.0 76.1L183.0 78.8" stroke="#00e000" stroke-width="1.1" fill="none"/><path d="M186.1 82.0L189.0 84.9" stroke="#00e000" stroke-width="1.1" fill="none"/><path d="M188.6 88.0L186.2 90.8" stroke="#00e000" stroke-width="1.1" fill="none"/><path d="M182.8 94.2L180.0 96.8" stroke="#00e000" stroke-width="1.1" fill="none"/><path d="M176.9 100.0L174.2 102.8" stroke="#00e000" stroke-width="1.1" fill="none"/><path d="M724.3 211.7L727.0 209.3" stroke="#00e000" stroke-width="1.1" fill="none"/><path d="M717.8 217.8L721.1 214.8" stroke="#00e000" stroke-width="1.1" fill="none"/><path d="M712.1 223.8L715.0 221.1" stroke="#00e000" stroke-width="1.1" fill="none"/><path d="M708.5 227.2L706.2 229.9L708.5 232.0" stroke="#00e000" stroke-width="1.1" fill="none"/><path d="M712.3 235.4L715.0 237.8" stroke="#00e000" stroke-width="1.1" fill="none"/><path d="M717.8 241.5L720.7 244.2" stroke="#00e000" stroke-width="1.1" fill="none"/><path d="M723.8 246.9L726.8 249.9" stroke="#00e000" stroke-width="1.1" fill="none"/><path d="M730.2 213.4L732.9 215.7" stroke="#00e000" stroke-width="1.1" fill="none"/><path d="M736.0 219.4L738.8 221.8" stroke="#00e000" stroke-width="1.1" fill="none"/><path d="M742.1 225.2L744.9 227.9" stroke="#00e000" stroke-width="1.1" fill="none"/><path d="M744.6 231.3L742.1 233.7" stroke="#00e000" stroke-width="1.1" fill="none"/><path d="M738.8 237.4L736.0 240.1" stroke="#00e000" stroke-width="1.1" fill="none"/><path d="M732.7 243.5L730.2 245.9" stroke="#00e000" stroke-width="1.1" fill="none"/>
<rect x="166" y="81" width="8" height="1" fill="#00e8ff"/>
<circle cx="93.5" cy="23.5" r="4" fill="none" stroke="#f59a10" stroke-width="1.15"/><rect x="91" y="23" width="5" height="1" fill="#f59a10"/><rect x="93" y="21" width="1" height="5" fill="#f59a10"/>
<rect x="156" y="21" width="7" height="1" fill="#f59a10"/><rect x="159" y="18" width="1" height="7" fill="#f59a10"/>
<rect x="68" y="95" width="7" height="1" fill="#e8601a"/><rect x="71" y="92" width="1" height="7" fill="#e8601a"/>
<circle cx="396.5" cy="153.5" r="4" fill="none" stroke="#f59a10" stroke-width="1.15"/><rect x="394" y="153" width="5" height="1" fill="#f59a10"/>
<circle cx="426.5" cy="37.5" r="4" fill="none" stroke="#ffc800" stroke-width="1.15"/><rect x="424" y="37" width="5" height="1" fill="#ffc800"/><rect x="426" y="35" width="1" height="5" fill="#ffc800"/>
<circle cx="542.5" cy="78.5" r="4" fill="none" stroke="#ffff00" stroke-width="1.15"/><rect x="540" y="78" width="5" height="1" fill="#ffff00"/>
<rect x="595" y="10" width="7" height="1" fill="#e8601a"/>
<rect x="601" y="29" width="7" height="1" fill="#ffff00"/>
<circle cx="94.5" cy="221.5" r="4" fill="none" stroke="#ffc800" stroke-width="1.15"/><rect x="92" y="221" width="5" height="1" fill="#ffc800"/>
<rect x="100" y="219" width="7" height="1" fill="#ffff00"/><rect x="103" y="216" width="1" height="7" fill="#ffff00"/>
<circle cx="74.5" cy="241.5" r="4" fill="none" stroke="#ffff00" stroke-width="1.15"/><rect x="72" y="241" width="5" height="1" fill="#ffff00"/>
<circle cx="86.5" cy="242.5" r="4" fill="none" stroke="#ffff00" stroke-width="1.15"/><rect x="84" y="242" width="5" height="1" fill="#ffff00"/>
<rect x="90" y="243" width="7" height="1" fill="#ffc800"/>
<rect x="127" y="271" width="7" height="1" fill="#ffff00"/><rect x="130" y="268" width="1" height="7" fill="#ffff00"/>
<rect x="57" y="291" width="7" height="1" fill="#f59a10"/>
<rect x="62" y="289" width="7" height="1" fill="#ffff00"/>
<rect x="65" y="395" width="7" height="1" fill="#e8601a"/>
<rect x="206" y="226" width="7" height="1" fill="#f59a10"/>
<rect x="251" y="226" width="7" height="1" fill="#f59a10"/><rect x="254" y="223" width="1" height="7" fill="#f59a10"/>
<rect x="684" y="265" width="7" height="1" fill="#ffc800"/>
<rect x="758" y="270" width="7" height="1" fill="#e8601a"/>
<rect x="738" y="285" width="7" height="1" fill="#ffff00"/>
<rect x="747" y="290" width="7" height="1" fill="#ffff00"/>
<rect x="764" y="293" width="7" height="1" fill="#f59a10"/>
<rect x="784" y="289" width="7" height="1" fill="#e8601a"/>
<rect x="722" y="293" width="7" height="1" fill="#ffff00"/><rect x="725" y="290" width="1" height="7" fill="#ffff00"/>
<rect x="750" y="299" width="7" height="1" fill="#ffc800"/>
<rect x="742" y="306" width="7" height="1" fill="#ffff00"/>
<rect x="697" y="319" width="7" height="1" fill="#ffc800"/>
<rect x="696" y="322" width="7" height="1" fill="#ffc800"/>
<rect x="35" y="423" width="7" height="1" fill="#ffff00"/>
<circle cx="35.5" cy="437.5" r="4" fill="none" stroke="#ffc800" stroke-width="1.15"/><rect x="33" y="437" width="5" height="1" fill="#ffc800"/><rect x="35" y="435" width="1" height="5" fill="#ffc800"/>
<circle cx="20.5" cy="446.5" r="4" fill="none" stroke="#ffff00" stroke-width="1.15"/><rect x="18" y="446" width="5" height="1" fill="#ffff00"/><rect x="20" y="444" width="1" height="5" fill="#ffff00"/>
<rect x="75" y="457" width="7" height="1" fill="#ffc800"/><rect x="78" y="454" width="1" height="7" fill="#ffc800"/>
<rect x="48" y="484" width="7" height="1" fill="#f59a10"/><rect x="51" y="481" width="1" height="7" fill="#f59a10"/>
<rect x="43" y="490" width="7" height="1" fill="#ffc800"/>
<rect x="7" y="490" width="7" height="1" fill="#e8601a"/>
<rect x="21" y="494" width="7" height="1" fill="#f59a10"/><rect x="24" y="491" width="1" height="7" fill="#f59a10"/>
<rect x="20" y="500" width="7" height="1" fill="#f59a10"/>
<circle cx="83.5" cy="502.5" r="4" fill="none" stroke="#ffc800" stroke-width="1.15"/><rect x="81" y="502" width="5" height="1" fill="#ffc800"/><rect x="83" y="500" width="1" height="5" fill="#ffc800"/>
<rect x="61" y="518" width="7" height="1" fill="#ffff00"/><rect x="64" y="515" width="1" height="7" fill="#ffff00"/>
<circle cx="33.5" cy="529.5" r="4" fill="none" stroke="#f59a10" stroke-width="1.15"/><rect x="31" y="529" width="5" height="1" fill="#f59a10"/>
<rect x="5" y="540" width="7" height="1" fill="#e8601a"/><rect x="8" y="537" width="1" height="7" fill="#e8601a"/>
<rect x="8" y="542" width="7" height="1" fill="#e8601a"/><rect x="11" y="539" width="1" height="7" fill="#e8601a"/>
<rect x="25" y="548" width="7" height="1" fill="#f59a10"/>
<rect x="28" y="562" width="7" height="1" fill="#e8601a"/>
<circle cx="73.5" cy="547.5" r="4" fill="none" stroke="#f59a10" stroke-width="1.15"/><rect x="71" y="547" width="5" height="1" fill="#f59a10"/><rect x="73" y="545" width="1" height="5" fill="#f59a10"/>
<rect x="58" y="561" width="7" height="1" fill="#f59a10"/><rect x="61" y="558" width="1" height="7" fill="#f59a10"/>
<rect x="54" y="568" width="7" height="1" fill="#e8601a"/><rect x="57" y="565" width="1" height="7" fill="#e8601a"/>
<circle cx="60.5" cy="574.5" r="4" fill="none" stroke="#f59a10" stroke-width="1.15"/><rect x="58" y="574" width="5" height="1" fill="#f59a10"/>
<circle cx="86.5" cy="571.5" r="4" fill="none" stroke="#ffc800" stroke-width="1.15"/><rect x="84" y="571" width="5" height="1" fill="#ffc800"/>
<rect x="79" y="583" width="7" height="1" fill="#ffff00"/>
<rect x="777" y="420" width="7" height="1" fill="#f59a10"/><rect x="780" y="417" width="1" height="7" fill="#f59a10"/>
<rect x="17" y="615" width="7" height="1" fill="#ffff00"/><rect x="20" y="612" width="1" height="7" fill="#ffff00"/>
<rect x="8" y="660" width="7" height="1" fill="#ffc800"/><rect x="11" y="657" width="1" height="7" fill="#ffc800"/>
<rect x="33" y="689" width="7" height="1" fill="#ffc800"/>
<rect x="79" y="718" width="7" height="1" fill="#ffff00"/>
<circle cx="770.5" cy="635.5" r="4" fill="none" stroke="#ffff00" stroke-width="1.15"/><rect x="768" y="635" width="5" height="1" fill="#ffff00"/>
<rect x="77" y="101" width="7" height="1" fill="#ffc800"/><rect x="80" y="98" width="1" height="7" fill="#ffc800"/>
<circle cx="125.5" cy="115.5" r="4" fill="none" stroke="#ffff00" stroke-width="1.15"/><rect x="123" y="115" width="5" height="1" fill="#ffff00"/><rect x="125" y="113" width="1" height="5" fill="#ffff00"/>
<circle cx="32.5" cy="120.5" r="4" fill="none" stroke="#f59a10" stroke-width="1.15"/><rect x="30" y="120" width="5" height="1" fill="#f59a10"/><rect x="32" y="118" width="1" height="5" fill="#f59a10"/>
<circle cx="37.5" cy="118.5" r="4" fill="none" stroke="#e8601a" stroke-width="1.15"/><rect x="35" y="118" width="5" height="1" fill="#e8601a"/><rect x="37" y="116" width="1" height="5" fill="#e8601a"/>
<circle cx="51.5" cy="115.5" r="4" fill="none" stroke="#ffc800" stroke-width="1.15"/><rect x="49" y="115" width="5" height="1" fill="#ffc800"/><rect x="51" y="113" width="1" height="5" fill="#ffc800"/>
<rect x="43" y="117" width="7" height="1" fill="#ffff00"/>
<circle cx="44.5" cy="123.5" r="4" fill="none" stroke="#e8601a" stroke-width="1.15"/><rect x="42" y="123" width="5" height="1" fill="#e8601a"/><rect x="44" y="121" width="1" height="5" fill="#e8601a"/>
<circle cx="41.5" cy="126.5" r="4" fill="none" stroke="#e8601a" stroke-width="1.15"/><rect x="39" y="126" width="5" height="1" fill="#e8601a"/>
<circle cx="80.5" cy="122.5" r="4" fill="none" stroke="#ffff00" stroke-width="1.15"/><rect x="78" y="122" width="5" height="1" fill="#ffff00"/>
<rect x="82" y="122" width="7" height="1" fill="#ffc800"/><rect x="85" y="119" width="1" height="7" fill="#ffc800"/>
<path d="M18 136.5L26 134.5" stroke="#f59a10" stroke-width="1" fill="none"/>
<circle cx="15.5" cy="144.5" r="4" fill="none" stroke="#f59a10" stroke-width="1.15"/><rect x="13" y="144" width="5" height="1" fill="#f59a10"/>
<rect x="15" y="145" width="7" height="1" fill="#e8601a"/>
<rect x="63" y="137" width="7" height="1" fill="#ffc800"/><rect x="66" y="134" width="1" height="7" fill="#ffc800"/>
<circle cx="41.5" cy="150.5" r="4" fill="none" stroke="#f59a10" stroke-width="1.15"/><rect x="39" y="150" width="5" height="1" fill="#f59a10"/>
<rect x="39" y="155" width="7" height="1" fill="#ffc800"/>
<rect x="50" y="155" width="7" height="1" fill="#ffc800"/><rect x="53" y="152" width="1" height="7" fill="#ffc800"/>
<rect x="7" y="160" width="7" height="1" fill="#e8601a"/><rect x="10" y="157" width="1" height="7" fill="#e8601a"/>
<rect x="83" y="150" width="7" height="1" fill="#e8601a"/>
<rect x="122" y="139" width="7" height="1" fill="#ffff00"/><rect x="125" y="136" width="1" height="7" fill="#ffff00"/>
<circle cx="125.5" cy="147.5" r="4" fill="none" stroke="#ffff00" stroke-width="1.15"/><rect x="123" y="147" width="5" height="1" fill="#ffff00"/>
<circle cx="111.5" cy="162.5" r="4" fill="none" stroke="#ffc800" stroke-width="1.15"/><rect x="109" y="162" width="5" height="1" fill="#ffc800"/><rect x="111" y="160" width="1" height="5" fill="#ffc800"/>
<circle cx="132.5" cy="158.5" r="4" fill="none" stroke="#ffff00" stroke-width="1.15"/><rect x="130" y="158" width="5" height="1" fill="#ffff00"/>
<rect x="127" y="168" width="7" height="1" fill="#ffc800"/>
<rect x="94" y="175" width="7" height="1" fill="#e8601a"/>
<rect x="77" y="180" width="7" height="1" fill="#ffff00"/>
<circle cx="100.5" cy="186.5" r="4" fill="none" stroke="#ffc800" stroke-width="1.15"/><rect x="98" y="186" width="5" height="1" fill="#ffc800"/>
<rect x="58" y="197" width="7" height="1" fill="#ffff00"/><rect x="61" y="194" width="1" height="7" fill="#ffff00"/>
<circle cx="57.5" cy="204.5" r="4" fill="none" stroke="#ffff00" stroke-width="1.15"/><rect x="55" y="204" width="5" height="1" fill="#ffff00"/>
<rect x="37" y="199" width="7" height="1" fill="#f59a10"/>
<rect x="79" y="199" width="7" height="1" fill="#e8601a"/><rect x="82" y="196" width="1" height="7" fill="#e8601a"/>
<rect x="59" y="206" width="7" height="1" fill="#e8601a"/>
<circle cx="138.5" cy="120.5" r="4" fill="none" stroke="#e8601a" stroke-width="1.15"/><rect x="136" y="120" width="5" height="1" fill="#e8601a"/><rect x="138" y="118" width="1" height="5" fill="#e8601a"/>
<circle cx="169.5" cy="114.5" r="4" fill="none" stroke="#ffc800" stroke-width="1.15"/><rect x="167" y="114" width="5" height="1" fill="#ffc800"/>
<circle cx="187.5" cy="105.5" r="4" fill="none" stroke="#ffc800" stroke-width="1.15"/><rect x="185" y="105" width="5" height="1" fill="#ffc800"/>
<circle cx="187.5" cy="102.5" r="4" fill="none" stroke="#ffc800" stroke-width="1.15"/><rect x="185" y="102" width="5" height="1" fill="#ffc800"/>
<rect x="179" y="101" width="7" height="1" fill="#f59a10"/>
<circle cx="167.5" cy="101.5" r="4" fill="none" stroke="#ffff00" stroke-width="1.15"/><rect x="165" y="101" width="5" height="1" fill="#ffff00"/>
<rect x="164" y="106" width="7" height="1" fill="#ffc800"/>
<circle cx="219.5" cy="100.5" r="4" fill="none" stroke="#f59a10" stroke-width="1.15"/><rect x="217" y="100" width="5" height="1" fill="#f59a10"/>
<circle cx="258.5" cy="102.5" r="4" fill="none" stroke="#f59a10" stroke-width="1.15"/><rect x="256" y="102" width="5" height="1" fill="#f59a10"/>
<circle cx="157.5" cy="135.5" r="4" fill="none" stroke="#ffc800" stroke-width="1.15"/><rect x="155" y="135" width="5" height="1" fill="#ffc800"/>
<circle cx="184.5" cy="130.5" r="4" fill="none" stroke="#f59a10" stroke-width="1.15"/><rect x="182" y="130" width="5" height="1" fill="#f59a10"/><rect x="184" y="128" width="1" height="5" fill="#f59a10"/>
<rect x="193" y="140" width="7" height="1" fill="#ffff00"/><rect x="196" y="137" width="1" height="7" fill="#ffff00"/>
<circle cx="210.5" cy="124.5" r="4" fill="none" stroke="#f59a10" stroke-width="1.15"/><rect x="208" y="124" width="5" height="1" fill="#f59a10"/>
<rect x="211" y="119" width="7" height="1" fill="#ffc800"/>
<rect x="210" y="126" width="7" height="1" fill="#ffff00"/><rect x="213" y="123" width="1" height="7" fill="#ffff00"/>
<rect x="224" y="119" width="7" height="1" fill="#f59a10"/><rect x="227" y="116" width="1" height="7" fill="#f59a10"/>
<circle cx="226.5" cy="126.5" r="4" fill="none" stroke="#ffc800" stroke-width="1.15"/><rect x="224" y="126" width="5" height="1" fill="#ffc800"/>
<circle cx="225.5" cy="128.5" r="4" fill="none" stroke="#ffc800" stroke-width="1.15"/><rect x="223" y="128" width="5" height="1" fill="#ffc800"/>
<rect x="220" y="133" width="7" height="1" fill="#f59a10"/><rect x="223" y="130" width="1" height="7" fill="#f59a10"/>
<circle cx="238.5" cy="116.5" r="4" fill="none" stroke="#f59a10" stroke-width="1.15"/><rect x="236" y="116" width="5" height="1" fill="#f59a10"/>
<circle cx="244.5" cy="119.5" r="4" fill="none" stroke="#ffff00" stroke-width="1.15"/><rect x="242" y="119" width="5" height="1" fill="#ffff00"/><rect x="244" y="117" width="1" height="5" fill="#ffff00"/>
<rect x="248" y="116" width="7" height="1" fill="#ffff00"/><rect x="251" y="113" width="1" height="7" fill="#ffff00"/>
<circle cx="265.5" cy="115.5" r="4" fill="none" stroke="#ffc800" stroke-width="1.15"/><rect x="263" y="115" width="5" height="1" fill="#ffc800"/>
<rect x="253" y="126" width="7" height="1" fill="#ffc800"/>
<rect x="256" y="131" width="7" height="1" fill="#f59a10"/>
<circle cx="181.5" cy="153.5" r="4" fill="none" stroke="#ffff00" stroke-width="1.15"/><rect x="179" y="153" width="5" height="1" fill="#ffff00"/><rect x="181" y="151" width="1" height="5" fill="#ffff00"/>
<circle cx="172.5" cy="161.5" r="4" fill="none" stroke="#ffff00" stroke-width="1.15"/><rect x="170" y="161" width="5" height="1" fill="#ffff00"/><rect x="172" y="159" width="1" height="5" fill="#ffff00"/>
<circle cx="179.5" cy="169.5" r="4" fill="none" stroke="#ffff00" stroke-width="1.15"/><rect x="177" y="169" width="5" height="1" fill="#ffff00"/><rect x="179" y="167" width="1" height="5" fill="#ffff00"/>
<circle cx="186.5" cy="166.5" r="4" fill="none" stroke="#ffc800" stroke-width="1.15"/><rect x="184" y="166" width="5" height="1" fill="#ffc800"/><rect x="186" y="164" width="1" height="5" fill="#ffc800"/>
<rect x="195" y="155" width="7" height="1" fill="#ffc800"/><rect x="198" y="152" width="1" height="7" fill="#ffc800"/>
<circle cx="202.5" cy="162.5" r="4" fill="none" stroke="#ffc800" stroke-width="1.15"/><rect x="200" y="162" width="5" height="1" fill="#ffc800"/>
<circle cx="202.5" cy="164.5" r="4" fill="none" stroke="#ffc800" stroke-width="1.15"/><rect x="200" y="164" width="5" height="1" fill="#ffc800"/>
<circle cx="215.5" cy="153.5" r="4" fill="none" stroke="#ffc800" stroke-width="1.15"/><rect x="213" y="153" width="5" height="1" fill="#ffc800"/><rect x="215" y="151" width="1" height="5" fill="#ffc800"/>
<circle cx="229.5" cy="164.5" r="4" fill="none" stroke="#f59a10" stroke-width="1.15"/><rect x="227" y="164" width="5" height="1" fill="#f59a10"/>
<rect x="235" y="165" width="7" height="1" fill="#f59a10"/><rect x="238" y="162" width="1" height="7" fill="#f59a10"/>
<rect x="240" y="168" width="7" height="1" fill="#f59a10"/>
<rect x="147" y="163" width="7" height="1" fill="#f59a10"/><rect x="150" y="160" width="1" height="7" fill="#f59a10"/>
<circle cx="168.5" cy="175.5" r="4" fill="none" stroke="#f59a10" stroke-width="1.15"/><rect x="166" y="175" width="5" height="1" fill="#f59a10"/>
<rect x="168" y="175" width="7" height="1" fill="#f59a10"/><rect x="171" y="172" width="1" height="7" fill="#f59a10"/>
<circle cx="184.5" cy="186.5" r="4" fill="none" stroke="#f59a10" stroke-width="1.15"/><rect x="182" y="186" width="5" height="1" fill="#f59a10"/>
<circle cx="157.5" cy="190.5" r="4" fill="none" stroke="#f59a10" stroke-width="1.15"/><rect x="155" y="190" width="5" height="1" fill="#f59a10"/><rect x="157" y="188" width="1" height="5" fill="#f59a10"/>
<circle cx="168.5" cy="190.5" r="4" fill="none" stroke="#f59a10" stroke-width="1.15"/><rect x="166" y="190" width="5" height="1" fill="#f59a10"/><rect x="168" y="188" width="1" height="5" fill="#f59a10"/>
<rect x="150" y="196" width="7" height="1" fill="#f59a10"/><rect x="153" y="193" width="1" height="7" fill="#f59a10"/>
<rect x="155" y="201" width="7" height="1" fill="#f59a10"/>
<circle cx="141.5" cy="104.5" r="4" fill="none" stroke="#f59a10" stroke-width="1.15"/><rect x="139" y="104" width="5" height="1" fill="#f59a10"/><rect x="141" y="102" width="1" height="5" fill="#f59a10"/>
<rect x="264" y="13" width="7" height="1" fill="#ffc800"/><rect x="267" y="10" width="1" height="7" fill="#ffc800"/>
<rect x="247" y="36" width="7" height="1" fill="#ffff00"/>
<circle cx="249.5" cy="48.5" r="4" fill="none" stroke="#ffff00" stroke-width="1.15"/><rect x="247" y="48" width="5" height="1" fill="#ffff00"/>
<rect x="205" y="56" width="7" height="1" fill="#ffff00"/><rect x="208" y="53" width="1" height="7" fill="#ffff00"/>
<circle cx="197.5" cy="63.5" r="4" fill="none" stroke="#e8601a" stroke-width="1.15"/><rect x="195" y="63" width="5" height="1" fill="#e8601a"/>
<circle cx="232.5" cy="65.5" r="4" fill="none" stroke="#ffff00" stroke-width="1.15"/><rect x="230" y="65" width="5" height="1" fill="#ffff00"/><rect x="232" y="63" width="1" height="5" fill="#ffff00"/>
<rect x="233" y="65" width="7" height="1" fill="#ffc800"/>
<circle cx="237.5" cy="72.5" r="4" fill="none" stroke="#ffff00" stroke-width="1.15"/><rect x="235" y="72" width="5" height="1" fill="#ffff00"/>
<rect x="249" y="65" width="7" height="1" fill="#ffc800"/><rect x="252" y="62" width="1" height="7" fill="#ffc800"/>
<rect x="210" y="71" width="7" height="1" fill="#ffc800"/><rect x="213" y="68" width="1" height="7" fill="#ffc800"/>
<rect x="223" y="70" width="7" height="1" fill="#ffc800"/>
<rect x="203" y="79" width="7" height="1" fill="#ffff00"/><rect x="206" y="76" width="1" height="7" fill="#ffff00"/>
<rect x="198" y="86" width="7" height="1" fill="#ffff00"/><rect x="201" y="83" width="1" height="7" fill="#ffff00"/>
<rect x="205" y="89" width="7" height="1" fill="#ffff00"/><rect x="208" y="86" width="1" height="7" fill="#ffff00"/>
<circle cx="190.5" cy="91.5" r="4" fill="none" stroke="#ffc800" stroke-width="1.15"/><rect x="188" y="91" width="5" height="1" fill="#ffc800"/>
<circle cx="219.5" cy="98.5" r="4" fill="none" stroke="#ffc800" stroke-width="1.15"/><rect x="217" y="98" width="5" height="1" fill="#ffc800"/>
<rect x="202" y="96" width="7" height="1" fill="#ffff00"/>
<rect x="206" y="99" width="7" height="1" fill="#ffc800"/><rect x="209" y="96" width="1" height="7" fill="#ffc800"/>
<rect x="251" y="94" width="7" height="1" fill="#ffc800"/><rect x="254" y="91" width="1" height="7" fill="#ffc800"/>
<circle cx="161.5" cy="82.5" r="4" fill="none" stroke="#ffff00" stroke-width="1.15"/><rect x="159" y="82" width="5" height="1" fill="#ffff00"/><rect x="161" y="80" width="1" height="5" fill="#ffff00"/>
<rect x="709" y="163" width="7" height="1" fill="#ffff00"/>
<rect x="723" y="170" width="7" height="1" fill="#f59a10"/>
<rect x="793" y="154" width="7" height="1" fill="#e8601a"/>
<rect x="695" y="189" width="7" height="1" fill="#ffff00"/>
<rect x="709" y="187" width="7" height="1" fill="#f59a10"/>
<rect x="720" y="191" width="7" height="1" fill="#e8601a"/>
<rect x="722" y="196" width="7" height="1" fill="#f59a10"/>
<rect x="706" y="201" width="7" height="1" fill="#00e8ff"/>
<rect x="709" y="210" width="7" height="1" fill="#ffc800"/>
<rect x="696" y="211" width="7" height="1" fill="#ffc800"/>
<rect x="715" y="214" width="7" height="1" fill="#ffff00"/>
<rect x="711" y="220" width="7" height="1" fill="#f59a10"/>
<rect x="747" y="212" width="7" height="1" fill="#f59a10"/>
<circle cx="730.5" cy="224.5" r="4" fill="none" stroke="#f59a10" stroke-width="1.15"/><rect x="728" y="224" width="5" height="1" fill="#f59a10"/>
<rect x="742" y="227" width="7" height="1" fill="#f59a10"/>
<rect x="760" y="232" width="7" height="1" fill="#f59a10"/>
<rect x="746" y="235" width="7" height="1" fill="#f59a10"/>
<rect x="713" y="236" width="7" height="1" fill="#ffff00"/>
<rect x="664" y="222" width="7" height="1" fill="#ffc800"/>
<rect x="666" y="224" width="7" height="1" fill="#ffc800"/>
<rect x="662" y="226" width="7" height="1" fill="#ffff00"/>
<rect x="660" y="228" width="7" height="1" fill="#f59a10"/>
<rect x="670" y="235" width="7" height="1" fill="#ffc800"/>
<rect x="666" y="238" width="7" height="1" fill="#ffff00"/>
<rect x="670" y="243" width="7" height="1" fill="#ffc800"/>
<rect x="665" y="248" width="7" height="1" fill="#ffff00"/>
<rect x="701" y="252" width="7" height="1" fill="#ffc800"/>
<rect x="689" y="256" width="7" height="1" fill="#f59a10"/>
<rect x="726" y="257" width="7" height="1" fill="#ffff00"/>
<rect x="738" y="257" width="7" height="1" fill="#ffff00"/>
<rect x="765" y="255" width="7" height="1" fill="#ffc800"/><rect x="768" y="252" width="1" height="7" fill="#ffc800"/>
</g>
<text x="101.5" y="158.3" font-size="9.3" fill="#fff" textLength="49" lengthAdjust="spacingAndGlyphs">T-2565-1</text>
<path d="M152 154L155.7 159L159.4 154" stroke="#ffff00" stroke-width="1" fill="none"/>
<rect x="140.5" y="154" width="4" height="1" fill="#00e8ff"/><rect x="97" y="153" width="5" height="1" fill="#e8601a"/><rect x="697.5" y="163" width="3.5" height="1" fill="#00e8ff"/>
<text x="656.5" y="166.7" font-size="9.3" fill="#fff" textLength="51.8" lengthAdjust="spacingAndGlyphs">C-3058-1</text>
</g>
<rect x="8.5" y="759.5" width="243" height="43" fill="#000" stroke="#8c8c8c" stroke-width="1"/>
<text x="13.7" y="770.8" font-size="10.5" fill="#e8e8e8" textLength="35.1" lengthAdjust="spacingAndGlyphs">Symbols</text>
<text x="52.8" y="770.8" font-size="10.5" fill="#e8e8e8" textLength="17.6" lengthAdjust="spacingAndGlyphs">-CG</text>
<text x="78" y="770.8" font-size="10.5" fill="#e8e8e8" textLength="14.3" lengthAdjust="spacingAndGlyphs">-IC</text>
<text x="99.4" y="770.8" font-size="10.5" fill="#e8e8e8" textLength="19.7" lengthAdjust="spacingAndGlyphs">+CG</text>
<text x="124.2" y="770.8" font-size="10.5" fill="#e8e8e8" textLength="16.9" lengthAdjust="spacingAndGlyphs">+IC</text>
<text x="153.6" y="770.8" font-size="10.5" fill="#c8c8c8" textLength="89.7" lengthAdjust="spacingAndGlyphs">Strike age color codes</text>
<text x="13.7" y="783.6" font-size="10.5" fill="#e8e8e8" textLength="27.0" lengthAdjust="spacingAndGlyphs">Recent</text>
<text x="13.7" y="796.3" font-size="10.5" fill="#e8e8e8" textLength="14.3" lengthAdjust="spacingAndGlyphs">Old</text>
<text x="153.6" y="783.6" font-size="10.5" fill="#f0d020" textLength="16.1" lengthAdjust="spacingAndGlyphs">15+</text>
<text x="188.8" y="783.6" font-size="10.5" fill="#f0a818" textLength="15.6" lengthAdjust="spacingAndGlyphs">30+</text>
<text x="223.5" y="783.6" font-size="10.5" fill="#f09818" textLength="15.4" lengthAdjust="spacingAndGlyphs">45+</text>
<text x="153.6" y="796.3" font-size="10.5" fill="#e88020" textLength="16.1" lengthAdjust="spacingAndGlyphs">60+</text>
<text x="188.8" y="796.3" font-size="10.5" fill="#e06010" textLength="15.6" lengthAdjust="spacingAndGlyphs">75+</text>
<text x="223.5" y="796.3" font-size="10.5" fill="#e04010" textLength="15.4" lengthAdjust="spacingAndGlyphs">90+</text>
<circle cx="60.5" cy="780.5" r="4" fill="none" stroke="#00e8ff" stroke-width="1.15"/><rect x="58" y="780" width="5" height="1" fill="#00e8ff"/>
<rect x="82" y="780" width="7" height="1" fill="#00e8ff"/>
<circle cx="110.5" cy="780.5" r="4" fill="none" stroke="#00e8ff" stroke-width="1.15"/><rect x="108" y="780" width="5" height="1" fill="#00e8ff"/><rect x="110" y="778" width="1" height="5" fill="#00e8ff"/>
<rect x="132" y="780" width="7" height="1" fill="#00e8ff"/><rect x="135" y="777" width="1" height="7" fill="#00e8ff"/>
<circle cx="60.5" cy="793.5" r="4" fill="none" stroke="#ffff00" stroke-width="1.15"/><rect x="58" y="793" width="5" height="1" fill="#ffff00"/>
<rect x="82" y="793" width="7" height="1" fill="#ffff00"/>
<circle cx="110.5" cy="793.5" r="4" fill="none" stroke="#ffff00" stroke-width="1.15"/><rect x="108" y="793" width="5" height="1" fill="#ffff00"/><rect x="110" y="791" width="1" height="5" fill="#ffff00"/>
<rect x="132" y="793" width="7" height="1" fill="#ffff00"/><rect x="135" y="790" width="1" height="7" fill="#ffff00"/>
<rect x="685" y="792" width="121" height="14" fill="#000"/>
<text x="689.3" y="800.8" font-size="10.5" fill="#fff" textLength="112" lengthAdjust="spacingAndGlyphs">©2005 Astrogenic Systems</text>
<g id="panel">
<rect x="812.5" y="8.5" width="319" height="318.0" rx="5.5" ry="5.5" fill="#000" stroke="#c4c4c4" stroke-width="1"/>
<rect x="812.5" y="333.5" width="319" height="114.0" rx="5.5" ry="5.5" fill="#000" stroke="#c4c4c4" stroke-width="1"/>
<rect x="812.5" y="454.5" width="319" height="348.0" rx="5.5" ry="5.5" fill="#000" stroke="#c4c4c4" stroke-width="1"/>
<rect x="819.5" y="16.5" width="57" height="17" fill="#f00" stroke="#d0d0d0"/>
<text x="824.3" y="30.0" font-size="13" fill="#ff0" font-weight="bold" textLength="47.7" lengthAdjust="spacingAndGlyphs">STRIKE</text>
<rect x="883.5" y="16.5" width="57" height="17" fill="#303030" stroke="#d0d0d0"/>
<text x="891.3" y="30.0" font-size="13" fill="#a8a8a8" font-weight="bold" textLength="41.9" lengthAdjust="spacingAndGlyphs">NOISE</text>
<rect x="994.5" y="16.5" width="127" height="17" fill="#303030" stroke="#d0d0d0"/>
<text x="998.5" y="30.0" font-size="13" fill="#fff" font-weight="bold" textLength="62.0" lengthAdjust="spacingAndGlyphs">Bng 264°</text>
<text x="1075.5" y="30.0" font-size="13" fill="#0e0" font-weight="bold" textLength="42.8" lengthAdjust="spacingAndGlyphs">323mi</text>
<rect x="821.5" y="64.5" width="81" height="15" fill="#585858" stroke="#c0c0c0"/>
<rect x="931.5" y="64.5" width="81" height="15" fill="#585858" stroke="#c0c0c0"/>
<rect x="1041.5" y="64.5" width="81" height="15" fill="#585858" stroke="#c0c0c0"/>
<text x="829.3" y="76.0" font-size="13" fill="#eee" textLength="65.3" lengthAdjust="spacingAndGlyphs">Strikes/min</text>
<text x="943.6" y="76.0" font-size="13" fill="#eee" textLength="56.6" lengthAdjust="spacingAndGlyphs">Close/min</text>
<text x="1050.4" y="76.0" font-size="13" fill="#eee" textLength="62.4" lengthAdjust="spacingAndGlyphs">Noises/min</text>
<text x="883.5" y="111.5" font-size="28" fill="#fff" font-weight="bold" textLength="18.5" lengthAdjust="spacingAndGlyphs">4</text>
<text x="994.1" y="111.5" font-size="28" fill="#fff" font-weight="bold" textLength="18.3" lengthAdjust="spacingAndGlyphs">0</text>
<text x="1104.2" y="111.5" font-size="28" fill="#b0b0b0" font-weight="bold" textLength="17.8" lengthAdjust="spacingAndGlyphs">0</text>
<text x="826.4" y="142.4" font-size="13" fill="#fff" textLength="75.8" lengthAdjust="spacingAndGlyphs">Total Strikes</text>
<text x="872.0" y="161.2" font-size="13" fill="#fff" textLength="30.2" lengthAdjust="spacingAndGlyphs">3178</text>
<text x="944.5" y="142.4" font-size="13" fill="#fff" textLength="67.8" lengthAdjust="spacingAndGlyphs">Total Close</text>
<text x="1004.5" y="161.2" font-size="13" fill="#fff" textLength="7.8" lengthAdjust="spacingAndGlyphs">0</text>
<text x="1047.0" y="142.4" font-size="13" fill="#b0b0b0" textLength="75.4" lengthAdjust="spacingAndGlyphs">Total Noises</text>
<text x="1100.7" y="161.2" font-size="13" fill="#fff" textLength="21.7" lengthAdjust="spacingAndGlyphs">182</text>
<text x="821.4" y="214.0" font-size="13" fill="#a8a8a8" textLength="164.1" lengthAdjust="spacingAndGlyphs">Lightning type distribution</text>
<rect x="821" y="217" width="302" height="1" fill="#a0a0a0"/>
<text x="821.4" y="236.6" font-size="13" fill="#fff" font-weight="bold" textLength="83.6" lengthAdjust="spacingAndGlyphs">Cloud-ground</text>
<text x="913.0" y="236.6" font-size="13" fill="#ddd" textLength="7.6" lengthAdjust="spacingAndGlyphs">+</text>
<rect x="925.5" y="227.5" width="50" height="10" rx="1.5" fill="#000" stroke="#a4a4a4"/><rect x="926" y="228" width="11" height="9" fill="#f00"/>
<text x="980.0" y="236.6" font-size="13" fill="#fff" font-weight="bold" textLength="28.0" lengthAdjust="spacingAndGlyphs">23%</text>
<text x="1016.5" y="236.6" font-size="13" fill="#ddd" font-weight="bold" textLength="5.9" lengthAdjust="spacingAndGlyphs">–</text>
<rect x="1028.5" y="227.5" width="50" height="10" rx="1.5" fill="#000" stroke="#a4a4a4"/><rect x="1029" y="228" width="8" height="9" fill="#8ec8f0"/>
<text x="1083.0" y="236.6" font-size="13" fill="#fff" font-weight="bold" textLength="28.0" lengthAdjust="spacingAndGlyphs">16%</text>
<text x="821.4" y="260.5" font-size="13" fill="#c8c8c8" textLength="37.6" lengthAdjust="spacingAndGlyphs">Count</text>
<text x="925.2" y="260.5" font-size="13" fill="#fff" font-weight="bold" textLength="23.0" lengthAdjust="spacingAndGlyphs">734</text>
<text x="1028.2" y="260.5" font-size="13" fill="#fff" font-weight="bold" textLength="23.5" lengthAdjust="spacingAndGlyphs">502</text>
<text x="821.4" y="290.6" font-size="13" fill="#fff" font-weight="bold" textLength="62.4" lengthAdjust="spacingAndGlyphs">Intracloud</text>
<text x="913.0" y="290.6" font-size="13" fill="#ddd" textLength="7.6" lengthAdjust="spacingAndGlyphs">+</text>
<rect x="925.5" y="281.5" width="50" height="10" rx="1.5" fill="#000" stroke="#a4a4a4"/><rect x="926" y="282" width="7" height="9" fill="#ee6ab0"/>
<text x="980.0" y="290.6" font-size="13" fill="#fff" font-weight="bold" textLength="28.0" lengthAdjust="spacingAndGlyphs">14%</text>
<text x="1016.5" y="290.6" font-size="13" fill="#ddd" font-weight="bold" textLength="5.9" lengthAdjust="spacingAndGlyphs">–</text>
<rect x="1028.5" y="281.5" width="50" height="10" rx="1.5" fill="#000" stroke="#a4a4a4"/><rect x="1029" y="282" width="23" height="9" fill="#0f0"/>
<text x="1083.0" y="290.6" font-size="13" fill="#fff" font-weight="bold" textLength="28.0" lengthAdjust="spacingAndGlyphs">47%</text>
<text x="821.4" y="314.5" font-size="13" fill="#c8c8c8" textLength="37.6" lengthAdjust="spacingAndGlyphs">Count</text>
<text x="925.2" y="314.5" font-size="13" fill="#fff" font-weight="bold" textLength="23.0" lengthAdjust="spacingAndGlyphs">457</text>
<text x="1028.2" y="314.5" font-size="13" fill="#fff" font-weight="bold" textLength="31.0" lengthAdjust="spacingAndGlyphs">1485</text>
<text x="821.4" y="353.3" font-size="17" fill="#0e0" font-weight="bold" textLength="213.1" lengthAdjust="spacingAndGlyphs">10/18/2025 2:09:16 PM</text>
<rect x="821" y="358" width="302" height="1" fill="#a0a0a0"/>
<text x="821.4" y="387.8" font-size="13" fill="#fff" textLength="47.9" lengthAdjust="spacingAndGlyphs">Squelch</text>
<text x="909.3" y="387.8" font-size="13" fill="#fff" textLength="7.3" lengthAdjust="spacingAndGlyphs">0</text>
<text x="981.2" y="387.8" font-size="13" fill="#fff" textLength="43.3" lengthAdjust="spacingAndGlyphs">Upload</text>
<text x="1060.8" y="387.8" font-size="13" fill="#b0b0b0" textLength="53.7" lengthAdjust="spacingAndGlyphs">Disabled</text>
<text x="821.4" y="408.4" font-size="13" fill="#fff" textLength="72.1" lengthAdjust="spacingAndGlyphs">Persistence</text>
<text x="909.3" y="408.4" font-size="13" fill="#fff" textLength="41.3" lengthAdjust="spacingAndGlyphs">90 min</text>
<text x="981.2" y="408.4" font-size="13" fill="#fff" textLength="50.2" lengthAdjust="spacingAndGlyphs">Capture</text>
<text x="1060.8" y="408.4" font-size="13" fill="#0e0" textLength="36.7" lengthAdjust="spacingAndGlyphs">Active</text>
<text x="821.4" y="428.3" font-size="13" fill="#fff" textLength="39.2" lengthAdjust="spacingAndGlyphs">Range</text>
<text x="909.3" y="428.3" font-size="13" fill="#fff" textLength="41.3" lengthAdjust="spacingAndGlyphs">313 mi</text>
<text x="981.2" y="428.3" font-size="13" fill="#fff" textLength="52.3" lengthAdjust="spacingAndGlyphs">Receiver</text>
<text x="1060.8" y="428.3" font-size="13" fill="#0e0" textLength="50.7" lengthAdjust="spacingAndGlyphs">Enabled</text>
<text x="821.4" y="475.2" font-size="13" fill="#a8a8a8" textLength="43.1" lengthAdjust="spacingAndGlyphs">Uptime</text>
<text x="909.3" y="475.2" font-size="13" fill="#fff" textLength="36.2" lengthAdjust="spacingAndGlyphs">33:39</text>
<text x="981.2" y="475.2" font-size="13" fill="#a8a8a8" textLength="61.8" lengthAdjust="spacingAndGlyphs">Peak time</text>
<text x="1060.8" y="475.2" font-size="13" fill="#c8c8c8" textLength="24.2" lengthAdjust="spacingAndGlyphs">Plot</text>
<text x="821.4" y="498.3" font-size="13" fill="#a8a8a8" textLength="60.1" lengthAdjust="spacingAndGlyphs">Peak rate</text>
<text x="909.3" y="498.3" font-size="13" fill="#fff" textLength="42.2" lengthAdjust="spacingAndGlyphs">19/min</text>
<text x="981.2" y="498.3" font-size="13" fill="#fff" textLength="50.3" lengthAdjust="spacingAndGlyphs">4:47 AM</text>
<text x="1060.8" y="498.3" font-size="13" fill="#fff" textLength="35.7" lengthAdjust="spacingAndGlyphs">Strike</text>
<text x="822.3" y="528.3" font-size="13" fill="#a8a8a8" textLength="76.0" lengthAdjust="spacingAndGlyphs">Trend graph</text>
<text x="908.4" y="528.3" font-size="13" fill="#fff" textLength="41.1" lengthAdjust="spacingAndGlyphs">60 min</text>
<polyline points="823.0,777.0 823.0,761.3 825.0,761.3 828.0,769.2 843.4,769.2 845.4,777.0 846.9,777.0 849.4,769.2 851.4,769.2 862.9,769.2 864.9,769.2 866.9,777.0 868.9,769.2 870.9,745.6 872.9,745.6 874.9,745.6 877.9,761.3 879.9,761.3 881.9,769.2 883.9,769.2 898.6,769.2 900.6,777.0 902.6,769.2 904.1,761.3 906.1,769.2 919.7,769.2 921.7,777.0 923.7,761.3 925.7,769.2 949.3,769.2 950.8,777.0 953.3,769.2 973.9,769.2 975.9,777.0 978.4,769.2 989.3,769.2 991.3,777.0 993.8,777.0 996.8,769.2 998.3,777.0 1000.3,769.2 1023.5,769.2 1025.0,769.2 1028.0,777.0 1030.0,761.3 1033.0,761.3 1035.0,777.0 1037.0,777.0 1039.5,777.0 1041.0,769.2 1043.5,769.2 1063.3,769.2 1065.3,753.5 1067.8,761.3 1069.3,777.0 1071.3,761.3 1074.3,761.3 1076.8,769.2 1078.8,769.2 1080.8,769.2 1082.8,769.2 1085.3,777.0 1088.0,769.2" fill="none" stroke="#9bd0f5" stroke-width="1" shape-rendering="crispEdges"/>
<polyline points="823.0,777.0 823.0,769.2 825.0,777.0 826.5,761.3 828.5,777.0 831.0,769.2 833.5,769.2 835.0,777.0 837.0,761.3 839.5,769.2 841.0,777.0 843.5,769.2 845.0,769.2 847.0,761.3 850.0,753.5 852.0,761.3 853.5,777.0 855.5,753.5 858.0,761.3 860.0,769.2 862.0,753.5 863.5,769.2 865.5,761.3 868.5,769.2 870.5,769.2 873.5,761.3 876.5,777.0 878.0,777.0 880.0,769.2 892.1,769.2 894.1,769.2 896.1,777.0 898.1,777.0 900.1,777.0 902.1,769.2 904.1,753.5 906.6,777.0 909.1,769.2 911.6,777.0 913.6,777.0 915.1,761.3 918.1,761.3 920.6,753.5 922.1,777.0 924.1,753.5 925.6,769.2 927.6,777.0 930.1,753.5 931.6,753.5 933.6,769.2 936.1,777.0 939.1,761.3 941.1,777.0 944.1,777.0 946.6,777.0 949.1,769.2 951.6,777.0 953.1,777.0 955.1,753.5 958.1,769.2 960.6,753.5 963.6,753.5 965.6,769.2 968.6,761.3 970.6,769.2 988.4,769.2 989.9,769.2 991.9,777.0 994.9,769.2 996.9,769.2 998.9,777.0 1000.9,769.2 1003.9,769.2 1005.9,753.5 1008.4,761.3 1010.4,753.5 1013.4,769.2 1015.4,761.3 1018.4,769.2 1020.4,769.2 1040.1,769.2 1042.1,777.0 1045.1,769.2 1047.1,761.3 1049.1,769.2 1051.1,777.0 1054.1,777.0 1056.1,753.5 1059.1,769.2 1061.6,777.0 1064.1,777.0 1067.1,777.0 1069.1,769.2 1080.2,769.2 1082.2,761.3 1084.7,769.2 1088.0,769.2" fill="none" stroke="#ee6ab0" stroke-width="1" shape-rendering="crispEdges"/>
<polyline points="823.0,777.0 823.0,777.0 824.5,769.2 837.4,769.2 839.9,777.0 841.9,777.0 843.9,777.0 845.4,761.3 847.9,769.2 850.4,777.0 852.4,769.2 854.4,769.2 856.4,777.0 859.4,777.0 862.4,777.0 865.4,769.2 867.4,769.2 869.9,777.0 871.9,769.2 873.9,769.2 875.9,777.0 877.4,753.5 879.4,753.5 882.4,777.0 884.4,769.2 887.4,777.0 888.9,777.0 891.4,769.2 893.4,769.2 894.9,777.0 897.4,777.0 899.9,777.0 901.9,777.0 903.4,769.2 904.9,769.2 907.4,777.0 909.4,777.0 911.9,777.0 913.4,769.2 915.4,769.2 917.4,769.2 919.4,769.2 921.4,769.2 923.4,761.3 925.9,761.3 927.9,769.2 930.4,769.2 933.4,777.0 934.9,769.2 945.1,769.2 948.1,769.2 950.1,761.3 951.6,761.3 954.6,769.2 957.1,761.3 959.1,769.2 973.2,769.2 975.2,769.2 977.2,777.0 979.2,761.3 981.7,769.2 983.7,761.3 986.7,777.0 989.7,777.0 991.2,777.0 993.7,777.0 996.2,777.0 998.2,777.0 1000.2,777.0 1002.2,769.2 1004.7,777.0 1007.7,777.0 1010.2,777.0 1012.2,777.0 1015.2,777.0 1017.2,769.2 1018.7,777.0 1020.2,769.2 1022.7,777.0 1024.7,769.2 1026.7,777.0 1028.7,769.2 1031.7,777.0 1033.2,761.3 1036.2,777.0 1038.2,777.0 1041.2,761.3 1043.2,761.3 1045.2,777.0 1046.7,769.2 1048.2,777.0 1050.2,777.0 1052.2,777.0 1055.2,769.2 1057.7,769.2 1059.7,761.3 1061.7,761.3 1063.7,777.0 1065.2,777.0 1067.2,769.2 1069.2,769.2 1071.7,777.0 1074.2,777.0 1077.2,777.0 1079.2,777.0 1081.2,777.0 1083.7,769.2 1086.2,769.2 1088.0,769.2" fill="none" stroke="#f00" stroke-width="1" shape-rendering="crispEdges"/>
<polyline points="822.5,777.0 823.4,753.5 825.8,753.5 827.9,761.3 829.2,761.3 831.9,753.5 833.3,761.3 834.7,769.2 837.4,753.5 838.7,753.5 841.4,761.3 844.1,769.2 845.1,761.3 846.2,777.0 850.2,777.0 850.9,769.2 863.1,769.2 865.8,753.5 867.2,753.5 869.2,769.2 871.9,753.5 873.5,753.5 876.0,761.3 877.6,765.2 878.7,753.5 880.7,745.6 882.8,753.5 885.5,753.5 886.8,745.6 889.3,745.6 890.9,753.5 892.9,769.2 896.3,769.2 899.0,777.0 901.7,769.2 903.8,761.3 907.2,761.3 909.9,753.5 910.5,753.5 912.6,774.6 915.3,777.0 918.0,769.2 922.1,769.2 923.4,777.0 927.5,769.2 929.5,761.3 930.9,753.5 932.6,753.5 934.3,769.2 935.6,777.0 937.0,769.2 939.7,761.3 941.7,761.3 943.7,769.2 949.2,769.2 950.0,769.2 954.1,769.2 955.8,777.0 958.3,761.3 962.4,761.3 964.9,769.2 966.5,777.0 969.8,769.2 974.8,769.2 976.4,761.3 978.4,753.5 980.6,753.5 983.0,761.3 985.5,769.2 992.1,769.2 993.8,777.0 997.1,774.6 999.6,765.2 1002.0,761.3 1004.5,766.8 1007.8,761.3 1011.1,761.3 1013.6,769.2 1019.4,769.2 1021.9,761.3 1024.3,745.6 1026.3,753.5 1028.5,765.2 1030.5,753.5 1033.4,753.5 1035.9,765.2 1037.6,769.2 1040.0,769.2 1043.3,753.5 1045.8,761.3 1047.5,774.6 1049.1,777.0 1051.6,769.2 1057.4,769.2 1059.9,773.1 1064.0,777.0 1066.5,769.2 1070.6,766.8 1073.1,761.3 1075.6,753.5 1078.0,765.2 1080.5,769.2 1082.2,761.3 1084.6,769.2 1087.9,769.2" fill="none" stroke="#0e0" stroke-width="1" shape-rendering="crispEdges"/>
<polyline points="822.5,777.0 823.4,745.6 829.2,745.6 831.3,737.8 835.3,737.8 837.4,730.0 838.7,737.8 840.7,745.6 842.1,757.4 844.1,757.4 846.2,753.5 848.2,761.3 850.9,769.2 852.9,769.2 854.3,753.5 856.3,753.5 859.0,765.2 861.1,769.2 863.1,745.6 864.9,737.8 867.2,745.6 869.2,741.7 870.6,722.1 871.6,706.4 873.3,714.3 874.6,722.1 876.7,722.1 877.6,737.8 879.4,722.1 881.4,730.0 882.8,737.8 885.5,737.8 886.8,730.0 888.2,737.8 889.3,722.1 890.9,737.8 894.3,753.5 897.7,737.8 900.4,745.6 903.1,757.4 904.4,753.5 907.2,745.6 909.9,745.6 911.9,757.4 914.6,769.2 918.7,753.5 922.1,765.2 923.4,769.2 927.5,769.2 930.2,737.8 932.9,749.6 934.9,777.0 937.0,749.6 939.4,737.8 941.7,753.5 943.1,745.6 947.1,761.3 949.8,761.3 950.0,753.5 953.3,745.6 955.0,745.6 957.4,761.3 959.9,737.8 962.4,737.8 964.9,749.6 966.5,737.8 968.2,741.7 969.5,737.8 971.5,753.5 974.8,761.3 977.3,737.8 978.9,722.1 980.6,722.1 981.7,730.0 983.0,722.1 985.0,741.7 988.0,757.4 990.5,761.3 993.0,761.3 993.8,774.6 996.3,757.4 998.7,745.6 1000.4,753.5 1002.5,737.8 1005.3,753.5 1007.8,761.3 1009.1,753.5 1011.5,753.5 1013.6,765.2 1016.1,761.3 1019.4,753.5 1021.9,741.7 1023.0,726.0 1024.7,714.3 1026.3,726.0 1029.0,741.7 1030.1,730.0 1031.8,737.8 1033.4,737.8 1035.1,749.6 1036.7,765.2 1038.4,769.2 1041.7,749.6 1043.3,737.8 1045.5,745.6 1047.5,757.4 1049.1,745.6 1051.1,745.6 1052.8,730.0 1054.9,745.6 1057.4,753.5 1058.7,745.6 1061.0,757.4 1063.2,753.5 1064.8,745.6 1067.6,745.6 1068.9,753.5 1070.6,745.6 1072.6,745.6 1073.9,753.5 1078.9,753.5 1081.3,745.6 1083.0,745.6 1084.6,753.5 1085.8,757.4 1087.5,745.6 1088.4,745.6" fill="none" stroke="#fff" stroke-width="1" shape-rendering="crispEdges"/>
<rect x="822" y="777" width="267" height="1" fill="#e8e8e8"/>
<rect x="1088" y="542" width="1" height="236" fill="#d0d0d0"/>
<rect x="1085" y="738" width="3" height="1" fill="#d0d0d0"/>
<rect x="1084" y="699" width="4" height="1" fill="#d0d0d0"/>
<rect x="1085" y="659" width="3" height="1" fill="#d0d0d0"/>
<rect x="1084" y="620" width="4" height="1" fill="#d0d0d0"/>
<rect x="1085" y="581" width="3" height="1" fill="#d0d0d0"/>
<rect x="1084" y="542" width="4" height="1" fill="#d0d0d0"/>
<rect x="822" y="778" width="1" height="2" fill="#d0d0d0"/>
<rect x="866" y="778" width="1" height="2" fill="#d0d0d0"/>
<rect x="911" y="778" width="1" height="2" fill="#d0d0d0"/>
<rect x="955" y="778" width="1" height="2" fill="#d0d0d0"/>
<rect x="999" y="778" width="1" height="2" fill="#d0d0d0"/>
<rect x="1044" y="778" width="1" height="2" fill="#d0d0d0"/>
<rect x="1088" y="778" width="1" height="2" fill="#d0d0d0"/>
<text x="1092.5" y="546.5" font-size="13" fill="#c8c8c8" textLength="13.0" lengthAdjust="spacingAndGlyphs">30</text>
<text x="1092.5" y="624.8" font-size="13" fill="#c8c8c8" textLength="13.0" lengthAdjust="spacingAndGlyphs">20</text>
<text x="1092.5" y="703.2" font-size="13" fill="#c8c8c8" textLength="13.0" lengthAdjust="spacingAndGlyphs">10</text>
<text x="820.5" y="793.5" font-size="13" fill="#c8c8c8" textLength="14.0" lengthAdjust="spacingAndGlyphs">60</text>
<text x="864.0" y="793.5" font-size="13" fill="#c8c8c8" textLength="14.0" lengthAdjust="spacingAndGlyphs">50</text>
<text x="908.5" y="793.5" font-size="13" fill="#c8c8c8" textLength="14.0" lengthAdjust="spacingAndGlyphs">40</text>
<text x="953.0" y="793.5" font-size="13" fill="#c8c8c8" textLength="14.0" lengthAdjust="spacingAndGlyphs">30</text>
<text x="997.0" y="793.5" font-size="13" fill="#c8c8c8" textLength="14.0" lengthAdjust="spacingAndGlyphs">20</text>
<text x="1041.5" y="793.5" font-size="13" fill="#c8c8c8" textLength="14.0" lengthAdjust="spacingAndGlyphs">10</text>
<text x="1087.5" y="793.5" font-size="13" fill="#c8c8c8" textLength="7.0" lengthAdjust="spacingAndGlyphs">0</text>
<text x="1099.5" y="793.5" font-size="13" fill="#c8c8c8" textLength="19.5" lengthAdjust="spacingAndGlyphs">min</text>
</g>
</svg></body></html>
